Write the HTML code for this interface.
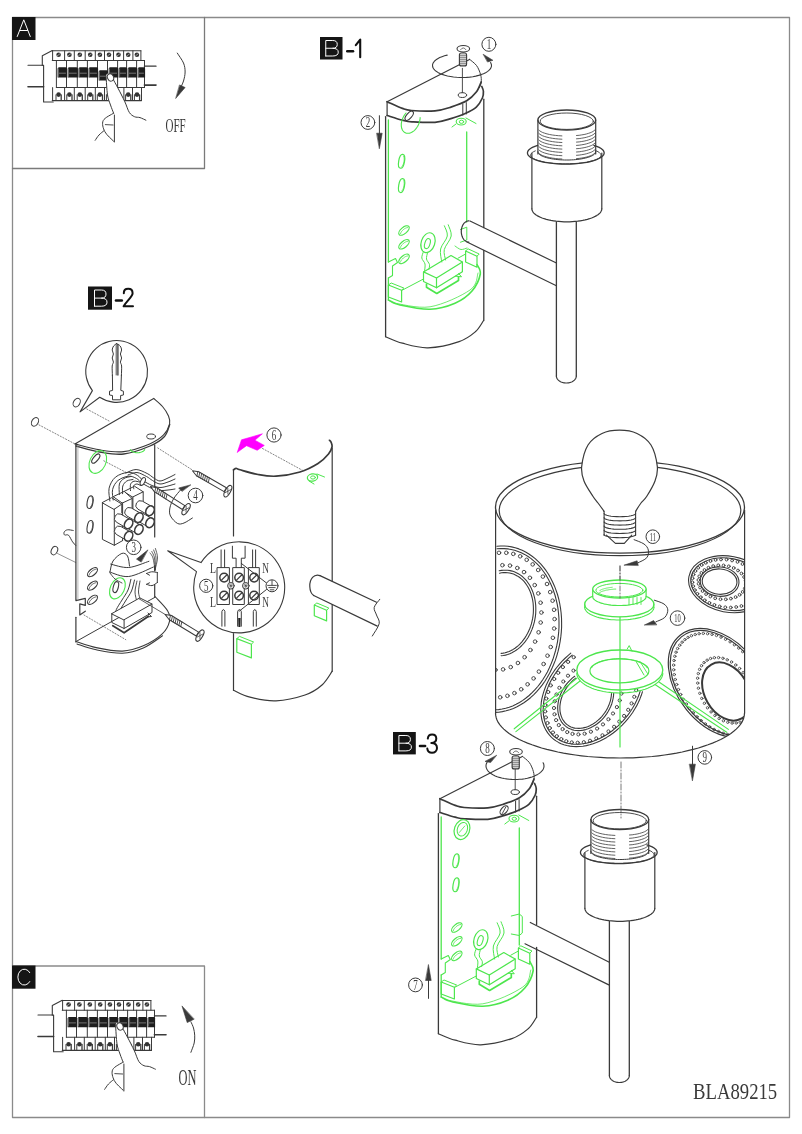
<!DOCTYPE html>
<html><head><meta charset="utf-8"><style>
html,body{margin:0;padding:0;background:#fff;}
svg{display:block;}
text{-webkit-font-smoothing:antialiased;}
</style></head><body>
<svg width="802" height="1134" viewBox="0 0 802 1134" stroke-linecap="round" stroke-linejoin="round" style="will-change:transform">
<rect width="802" height="1134" fill="#fff"/>
<rect x="12.5" y="17.5" width="777" height="1100" fill="none" stroke="#8a8a8a" stroke-width="1.3"/>
<path d="M12.5,168.5 H204.5 V17.5" fill="none" stroke="#7a7a7a" stroke-width="1.3"/>
<path d="M12.5,966 H204.5 V1117.5" fill="none" stroke="#8a8a8a" stroke-width="1.3"/>
<rect x="12" y="17" width="23.5" height="23" fill="#151515"/>
<path d="M17.25,36.5 L23.75,19.8 L30.25,36.5 M19.95,30.5 L27.55,30.5" stroke="#fff" stroke-width="1.0" fill="none" />
<rect x="12" y="965.5" width="23.5" height="23.2" fill="#151515"/>
<path d="M29.75,972.6 A6.5,8 0 1 0 29.75,981.6" stroke="#fff" stroke-width="1.0" fill="none" />
<rect x="320" y="37" width="22.5" height="22.5" fill="#151515"/>
<path d="M325.75,56.0 V40.5 H332.75 Q337.25,40.5 337.25,44.375 Q337.25,48.25 332.75,48.25 H325.75 M332.75,48.25 Q338.25,48.25 338.25,52.125 Q338.25,56.0 332.75,56.0 H325.75" stroke="#fff" stroke-width="1.0" fill="none" />
<rect x="88" y="286.5" width="24" height="23.2" fill="#151515"/>
<path d="M94.5,306.2 V290.0 H101.5 Q106.0,290.0 106.0,294.05 Q106.0,298.1 101.5,298.1 H94.5 M101.5,298.1 Q107.0,298.1 107.0,302.15 Q107.0,306.2 101.5,306.2 H94.5" stroke="#fff" stroke-width="1.0" fill="none" />
<rect x="393" y="732" width="22.8" height="22.4" fill="#151515"/>
<path d="M398.9,750.9 V735.5 H405.9 Q410.4,735.5 410.4,739.35 Q410.4,743.2 405.9,743.2 H398.9 M405.9,743.2 Q411.4,743.2 411.4,747.05 Q411.4,750.9 405.9,750.9 H398.9" stroke="#fff" stroke-width="1.0" fill="none" />
<path d="M347.3,51.2 H353" stroke="#111" stroke-width="2.6" fill="none" />
<path d="M355.8,45.2 L360.2,39.6 V57.3" stroke="#111" stroke-width="2.1" fill="none" />
<path d="M116,300.5 H121.8" stroke="#111" stroke-width="2.6" fill="none" />
<path d="M123.8,293.2 C123.8,290.3 125.8,288.8 128.2,288.8 C130.8,288.8 132.6,290.6 132.6,293.2 C132.6,296.8 127,300.5 123.6,306.3 H133" stroke="#111" stroke-width="2.0" fill="none" />
<path d="M420,746 H425.1" stroke="#111" stroke-width="2.6" fill="none" />
<path d="M427.8,738.6 C428,735.9 429.8,734.4 432.1,734.4 C434.6,734.4 436.3,736.2 436.3,738.6 C436.3,741.4 434.2,743 431.3,743 C434.8,743 437,745 437,748.1 C437,751 434.8,752.8 432,752.8 C429.3,752.8 427.6,751.2 427.3,748.6" stroke="#111" stroke-width="2.0" fill="none" />
<text x="0" y="0" transform="translate(693 1099.3) scale(0.797 1)" font-family="Liberation Serif" font-size="23.5" fill="#3a3a3a" text-anchor="start" font-weight="normal">BLA89215</text>
<g transform="translate(0 0)">
<path d="M28.0,65.3 L42.3,65.3" stroke="#3a3a3a" stroke-width="1.1" fill="none" />
<path d="M28.0,86.8 L43.6,86.8" stroke="#3a3a3a" stroke-width="1.6" fill="none" />
<path d="M144.4,66.2 L156.0,66.2" stroke="#3a3a3a" stroke-width="1.3" fill="none" />
<path d="M144.4,85.1 L156.0,85.1" stroke="#3a3a3a" stroke-width="1.6" fill="none" />
<path d="M42.3,65.3 L42.3,55.7 L52.3,50.5" stroke="#3a3a3a" stroke-width="1.1" fill="none" />
<path d="M42.3,65.3 L43.6,65.3 L43.6,102.0 L53.2,102.0" stroke="#3a3a3a" stroke-width="1.1" fill="none" />
<path d="M52.3,50.8 L140.9,50.8" stroke="#3a3a3a" stroke-width="1.1" fill="none" />
<path d="M52.3,60.5 L144.5,60.5" stroke="#3a3a3a" stroke-width="1.1" fill="none" />
<path d="M52.6,50.8 L52.6,60.5" stroke="#3a3a3a" stroke-width="1.0" fill="none" />
<path d="M64.6,50.8 L64.6,60.5" stroke="#3a3a3a" stroke-width="1.0" fill="none" />
<path d="M74.3,50.8 L74.3,60.5" stroke="#3a3a3a" stroke-width="1.0" fill="none" />
<path d="M85.2,50.8 L85.2,60.5" stroke="#3a3a3a" stroke-width="1.0" fill="none" />
<path d="M95.3,50.8 L95.3,60.5" stroke="#3a3a3a" stroke-width="1.0" fill="none" />
<path d="M104.5,50.8 L104.5,60.5" stroke="#3a3a3a" stroke-width="1.0" fill="none" />
<path d="M113.5,50.8 L113.5,60.5" stroke="#3a3a3a" stroke-width="1.0" fill="none" />
<path d="M123.6,50.8 L123.6,60.5" stroke="#3a3a3a" stroke-width="1.0" fill="none" />
<path d="M132.9,50.8 L132.9,60.5" stroke="#3a3a3a" stroke-width="1.0" fill="none" />
<path d="M140.9,50.8 L140.9,60.5" stroke="#3a3a3a" stroke-width="1.0" fill="none" />
<circle cx="58.6" cy="54.8" r="2.3" fill="#333"/>
<path d="M57.3,55.8 L59.9,53.8" stroke="#ddd" stroke-width="0.6" fill="none" />
<circle cx="69.4" cy="54.8" r="2.3" fill="#333"/>
<path d="M68.1,55.8 L70.7,53.8" stroke="#ddd" stroke-width="0.6" fill="none" />
<circle cx="79.8" cy="54.8" r="2.3" fill="#333"/>
<path d="M78.5,55.8 L81.0,53.8" stroke="#ddd" stroke-width="0.6" fill="none" />
<circle cx="90.2" cy="54.8" r="2.3" fill="#333"/>
<path d="M89.0,55.8 L91.5,53.8" stroke="#ddd" stroke-width="0.6" fill="none" />
<circle cx="99.9" cy="54.8" r="2.3" fill="#333"/>
<path d="M98.6,55.8 L101.2,53.8" stroke="#ddd" stroke-width="0.6" fill="none" />
<circle cx="109.0" cy="54.8" r="2.3" fill="#333"/>
<path d="M107.7,55.8 L110.3,53.8" stroke="#ddd" stroke-width="0.6" fill="none" />
<circle cx="118.5" cy="54.8" r="2.3" fill="#333"/>
<path d="M117.2,55.8 L119.8,53.8" stroke="#ddd" stroke-width="0.6" fill="none" />
<circle cx="128.2" cy="54.8" r="2.3" fill="#333"/>
<path d="M127.0,55.8 L129.6,53.8" stroke="#ddd" stroke-width="0.6" fill="none" />
<circle cx="136.9" cy="54.8" r="2.3" fill="#333"/>
<path d="M135.6,55.8 L138.2,53.8" stroke="#ddd" stroke-width="0.6" fill="none" />
<path d="M56.4,60.5 L56.4,87.5" stroke="#3a3a3a" stroke-width="1.0" fill="none" />
<path d="M66.5,60.5 L66.5,87.5" stroke="#3a3a3a" stroke-width="1.0" fill="none" />
<path d="M77.3,60.5 L77.3,87.5" stroke="#3a3a3a" stroke-width="1.0" fill="none" />
<path d="M87.4,60.5 L87.4,87.5" stroke="#3a3a3a" stroke-width="1.0" fill="none" />
<path d="M97.5,60.5 L97.5,87.5" stroke="#3a3a3a" stroke-width="1.0" fill="none" />
<path d="M107.5,60.5 L107.5,87.5" stroke="#3a3a3a" stroke-width="1.0" fill="none" />
<path d="M117.6,60.5 L117.6,87.5" stroke="#3a3a3a" stroke-width="1.0" fill="none" />
<path d="M126.6,60.5 L126.6,87.5" stroke="#3a3a3a" stroke-width="1.0" fill="none" />
<path d="M136.6,60.5 L136.6,87.5" stroke="#3a3a3a" stroke-width="1.0" fill="none" />
<path d="M144.5,60.5 L144.5,87.5" stroke="#3a3a3a" stroke-width="1.0" fill="none" />
<path d="M56.4,87.5 L144.5,87.5" stroke="#3a3a3a" stroke-width="1.1" fill="none" />
<path d="M57.6,77.5 V68.8 Q57.6,67.3 59.1,67.3 H65.6 Q67.1,67.3 67.1,68.8 V77.5 Z" fill="#1e1e1e"/>
<path d="M59.2,73.2 L65.5,73.2" stroke="#888" stroke-width="0.8" fill="none" />
<path d="M58.4,68.8 L58.4,76.5" stroke="#999" stroke-width="0.6" fill="none" />
<path d="M67.7,77.5 V68.8 Q67.7,67.3 69.2,67.3 H76.4 Q77.9,67.3 77.9,68.8 V77.5 Z" fill="#1e1e1e"/>
<path d="M69.3,73.2 L76.3,73.2" stroke="#888" stroke-width="0.8" fill="none" />
<path d="M68.5,68.8 L68.5,76.5" stroke="#999" stroke-width="0.6" fill="none" />
<path d="M78.5,77.5 V68.8 Q78.5,67.3 80.0,67.3 H86.5 Q88.0,67.3 88.0,68.8 V77.5 Z" fill="#1e1e1e"/>
<path d="M80.1,73.2 L86.4,73.2" stroke="#888" stroke-width="0.8" fill="none" />
<path d="M79.3,68.8 L79.3,76.5" stroke="#999" stroke-width="0.6" fill="none" />
<path d="M88.6,77.5 V68.8 Q88.6,67.3 90.1,67.3 H96.6 Q98.1,67.3 98.1,68.8 V77.5 Z" fill="#1e1e1e"/>
<path d="M90.2,73.2 L96.5,73.2" stroke="#888" stroke-width="0.8" fill="none" />
<path d="M89.4,68.8 L89.4,76.5" stroke="#999" stroke-width="0.6" fill="none" />
<path d="M98.7,80.5 V71.8 Q98.7,70.3 100.2,70.3 H106.6 Q108.1,70.3 108.1,71.8 V80.5 Z" fill="#1e1e1e"/>
<path d="M100.3,76.2 L106.5,76.2" stroke="#888" stroke-width="0.8" fill="none" />
<path d="M99.5,71.8 L99.5,79.5" stroke="#999" stroke-width="0.6" fill="none" />
<path d="M108.7,77.5 V68.8 Q108.7,67.3 110.2,67.3 H116.7 Q118.2,67.3 118.2,68.8 V77.5 Z" fill="#1e1e1e"/>
<path d="M110.3,73.2 L116.6,73.2" stroke="#888" stroke-width="0.8" fill="none" />
<path d="M109.5,68.8 L109.5,76.5" stroke="#999" stroke-width="0.6" fill="none" />
<path d="M118.8,77.5 V68.8 Q118.8,67.3 120.3,67.3 H125.7 Q127.2,67.3 127.2,68.8 V77.5 Z" fill="#1e1e1e"/>
<path d="M120.4,73.2 L125.6,73.2" stroke="#888" stroke-width="0.8" fill="none" />
<path d="M119.6,68.8 L119.6,76.5" stroke="#999" stroke-width="0.6" fill="none" />
<path d="M127.8,77.5 V68.8 Q127.8,67.3 129.3,67.3 H135.7 Q137.2,67.3 137.2,68.8 V77.5 Z" fill="#1e1e1e"/>
<path d="M129.4,73.2 L135.6,73.2" stroke="#888" stroke-width="0.8" fill="none" />
<path d="M128.6,68.8 L128.6,76.5" stroke="#999" stroke-width="0.6" fill="none" />
<path d="M137.8,77.5 V68.8 Q137.8,67.3 139.3,67.3 H143.6 Q145.1,67.3 145.1,68.8 V77.5 Z" fill="#1e1e1e"/>
<path d="M139.4,73.2 L143.5,73.2" stroke="#888" stroke-width="0.8" fill="none" />
<path d="M138.6,68.8 L138.6,76.5" stroke="#999" stroke-width="0.6" fill="none" />
<path d="M52.3,100.6 L141.5,100.6" stroke="#3a3a3a" stroke-width="1.2" fill="none" />
<path d="M52.6,87.6 L52.6,100.6" stroke="#3a3a3a" stroke-width="1.0" fill="none" />
<path d="M64.6,87.6 L64.6,100.6" stroke="#3a3a3a" stroke-width="1.0" fill="none" />
<path d="M74.3,87.6 L74.3,100.6" stroke="#3a3a3a" stroke-width="1.0" fill="none" />
<path d="M85.2,87.6 L85.2,100.6" stroke="#3a3a3a" stroke-width="1.0" fill="none" />
<path d="M95.3,87.6 L95.3,100.6" stroke="#3a3a3a" stroke-width="1.0" fill="none" />
<path d="M104.5,87.6 L104.5,100.6" stroke="#3a3a3a" stroke-width="1.0" fill="none" />
<path d="M113.5,87.6 L113.5,100.6" stroke="#3a3a3a" stroke-width="1.0" fill="none" />
<path d="M123.9,87.6 L123.9,100.6" stroke="#3a3a3a" stroke-width="1.0" fill="none" />
<path d="M132.5,87.6 L132.5,100.6" stroke="#3a3a3a" stroke-width="1.0" fill="none" />
<path d="M141.5,87.6 L141.5,100.6" stroke="#3a3a3a" stroke-width="1.0" fill="none" />
<circle cx="58.6" cy="94.6" r="2.3" fill="#333"/>
<path d="M56.0,94.8 L56.0,100.3" stroke="#3a3a3a" stroke-width="1.0" fill="none" />
<path d="M61.2,94.8 L61.2,100.3" stroke="#3a3a3a" stroke-width="1.3" fill="none" />
<circle cx="69.4" cy="94.6" r="2.3" fill="#333"/>
<path d="M66.8,94.8 L66.8,100.3" stroke="#3a3a3a" stroke-width="1.0" fill="none" />
<path d="M72.0,94.8 L72.0,100.3" stroke="#3a3a3a" stroke-width="1.3" fill="none" />
<circle cx="79.8" cy="94.6" r="2.3" fill="#333"/>
<path d="M77.2,94.8 L77.2,100.3" stroke="#3a3a3a" stroke-width="1.0" fill="none" />
<path d="M82.3,94.8 L82.3,100.3" stroke="#3a3a3a" stroke-width="1.3" fill="none" />
<circle cx="90.2" cy="94.6" r="2.3" fill="#333"/>
<path d="M87.7,94.8 L87.7,100.3" stroke="#3a3a3a" stroke-width="1.0" fill="none" />
<path d="M92.8,94.8 L92.8,100.3" stroke="#3a3a3a" stroke-width="1.3" fill="none" />
<circle cx="99.9" cy="94.6" r="2.3" fill="#333"/>
<path d="M97.3,94.8 L97.3,100.3" stroke="#3a3a3a" stroke-width="1.0" fill="none" />
<path d="M102.5,94.8 L102.5,100.3" stroke="#3a3a3a" stroke-width="1.3" fill="none" />
<circle cx="109.0" cy="94.6" r="2.3" fill="#333"/>
<path d="M106.4,94.8 L106.4,100.3" stroke="#3a3a3a" stroke-width="1.0" fill="none" />
<path d="M111.6,94.8 L111.6,100.3" stroke="#3a3a3a" stroke-width="1.3" fill="none" />
<circle cx="118.7" cy="94.6" r="2.3" fill="#333"/>
<path d="M116.1,94.8 L116.1,100.3" stroke="#3a3a3a" stroke-width="1.0" fill="none" />
<path d="M121.3,94.8 L121.3,100.3" stroke="#3a3a3a" stroke-width="1.3" fill="none" />
<circle cx="128.2" cy="94.6" r="2.3" fill="#333"/>
<path d="M125.6,94.8 L125.6,100.3" stroke="#3a3a3a" stroke-width="1.0" fill="none" />
<path d="M130.8,94.8 L130.8,100.3" stroke="#3a3a3a" stroke-width="1.3" fill="none" />
<circle cx="137.0" cy="94.6" r="2.3" fill="#333"/>
<path d="M134.4,94.8 L134.4,100.3" stroke="#3a3a3a" stroke-width="1.0" fill="none" />
<path d="M139.6,94.8 L139.6,100.3" stroke="#3a3a3a" stroke-width="1.3" fill="none" />
</g>
<g transform="translate(0 0)">
<path d="M106.1,76.6 C105.8,80.1 106.8,90.2 107.5,94.9 C108.2,99.6 109.5,102.0 110.5,105.0 C111.5,108.0 115.0,110.5 113.6,113.2 C112.2,115.9 103.7,118.0 102.2,121.1 C100.7,124.2 102.9,128.2 104.8,131.6 C106.7,134.9 106.1,139.6 113.6,141.2 C121.1,142.8 144.6,144.5 150.0,141.0 C155.4,137.5 148.5,124.2 145.9,120.2 C143.3,116.2 137.3,118.0 134.5,116.7 C131.7,115.4 130.9,114.9 129.3,112.4 C127.7,109.9 126.8,106.0 124.9,101.9 C123.0,97.8 119.9,91.8 117.9,88.0 C115.9,84.2 114.6,81.5 113.1,79.2 C111.6,76.9 110.2,74.4 109.0,74.0 C107.8,73.6 106.3,73.1 106.1,76.6 Z" stroke="none" stroke-width="1.2" fill="#fff" />
<path d="M106.1,76.6 C106.3,79.6 106.8,90.2 107.5,94.9 C108.2,99.6 109.5,102.0 110.5,105.0 C111.5,108.0 113.1,111.8 113.6,113.2" stroke="#3a3a3a" stroke-width="1.0" fill="none" />
<path d="M113.1,79.2 C113.9,80.7 115.9,84.2 117.9,88.0 C119.9,91.8 123.0,97.8 124.9,101.9 C126.8,106.0 127.7,109.9 129.3,112.4 C130.9,114.9 132.7,115.8 134.5,116.7 C136.3,117.6 138.1,117.0 140.0,117.6 C141.9,118.2 144.9,119.8 145.9,120.2" stroke="#3a3a3a" stroke-width="1.0" fill="none" />
<path d="M113.6,113.2 C111.9,114.4 104.7,117.5 103.2,120.6 C101.7,123.7 103.1,128.2 104.8,131.6 C106.5,135.0 112.1,139.6 113.6,141.2" stroke="#3a3a3a" stroke-width="1.0" fill="none" />
<path d="M114.4,115.0 L114.4,142.0" stroke="#3a3a3a" stroke-width="1.0" fill="none" />
<path d="M104.0,130.7 C103.2,131.4 100.5,133.4 99.0,135.0 C97.5,136.6 95.8,139.4 95.2,140.3" stroke="#3a3a3a" stroke-width="1.0" fill="none" />
<path d="M105.3,124.6 L113.1,125.0" stroke="#3a3a3a" stroke-width="0.9" fill="none" />
<ellipse cx="110.5" cy="77.4" rx="3.0" ry="3.8" stroke="#3a3a3a" stroke-width="1.0" fill="#fff" transform="rotate(-25 110.5 77.4)" />
</g>
<path d="M177.3,53.1 C178.3,54.8 182.2,59.9 183.5,63.0 C184.8,66.2 185.1,69.0 185.1,72.0 C185.1,75.0 184.3,78.3 183.5,81.0 C182.7,83.7 181.0,86.8 180.5,88.0" stroke="#3a3a3a" stroke-width="1.0" fill="none" />
<path d="M179.8,85.1 L185.1,87.5 L175.9,98.2 Z" fill="#3a3a3a" stroke="#3a3a3a" stroke-width="0.6"/>
<text x="0" y="0" transform="translate(165.5 131.8) scale(0.597 1)" font-family="Liberation Serif" font-size="18.5" fill="#3a3a3a" text-anchor="start" font-weight="normal">OFF</text>
<g transform="translate(10 949.7)">
<path d="M28.0,65.3 L42.3,65.3" stroke="#3a3a3a" stroke-width="1.1" fill="none" />
<path d="M28.0,86.8 L43.6,86.8" stroke="#3a3a3a" stroke-width="1.6" fill="none" />
<path d="M144.4,66.2 L156.0,66.2" stroke="#3a3a3a" stroke-width="1.3" fill="none" />
<path d="M144.4,85.1 L156.0,85.1" stroke="#3a3a3a" stroke-width="1.6" fill="none" />
<path d="M42.3,65.3 L42.3,55.7 L52.3,50.5" stroke="#3a3a3a" stroke-width="1.1" fill="none" />
<path d="M42.3,65.3 L43.6,65.3 L43.6,102.0 L53.2,102.0" stroke="#3a3a3a" stroke-width="1.1" fill="none" />
<path d="M52.3,50.8 L140.9,50.8" stroke="#3a3a3a" stroke-width="1.1" fill="none" />
<path d="M52.3,60.5 L144.5,60.5" stroke="#3a3a3a" stroke-width="1.1" fill="none" />
<path d="M52.6,50.8 L52.6,60.5" stroke="#3a3a3a" stroke-width="1.0" fill="none" />
<path d="M64.6,50.8 L64.6,60.5" stroke="#3a3a3a" stroke-width="1.0" fill="none" />
<path d="M74.3,50.8 L74.3,60.5" stroke="#3a3a3a" stroke-width="1.0" fill="none" />
<path d="M85.2,50.8 L85.2,60.5" stroke="#3a3a3a" stroke-width="1.0" fill="none" />
<path d="M95.3,50.8 L95.3,60.5" stroke="#3a3a3a" stroke-width="1.0" fill="none" />
<path d="M104.5,50.8 L104.5,60.5" stroke="#3a3a3a" stroke-width="1.0" fill="none" />
<path d="M113.5,50.8 L113.5,60.5" stroke="#3a3a3a" stroke-width="1.0" fill="none" />
<path d="M123.6,50.8 L123.6,60.5" stroke="#3a3a3a" stroke-width="1.0" fill="none" />
<path d="M132.9,50.8 L132.9,60.5" stroke="#3a3a3a" stroke-width="1.0" fill="none" />
<path d="M140.9,50.8 L140.9,60.5" stroke="#3a3a3a" stroke-width="1.0" fill="none" />
<circle cx="58.6" cy="54.8" r="2.3" fill="#333"/>
<path d="M57.3,55.8 L59.9,53.8" stroke="#ddd" stroke-width="0.6" fill="none" />
<circle cx="69.4" cy="54.8" r="2.3" fill="#333"/>
<path d="M68.1,55.8 L70.7,53.8" stroke="#ddd" stroke-width="0.6" fill="none" />
<circle cx="79.8" cy="54.8" r="2.3" fill="#333"/>
<path d="M78.5,55.8 L81.0,53.8" stroke="#ddd" stroke-width="0.6" fill="none" />
<circle cx="90.2" cy="54.8" r="2.3" fill="#333"/>
<path d="M89.0,55.8 L91.5,53.8" stroke="#ddd" stroke-width="0.6" fill="none" />
<circle cx="99.9" cy="54.8" r="2.3" fill="#333"/>
<path d="M98.6,55.8 L101.2,53.8" stroke="#ddd" stroke-width="0.6" fill="none" />
<circle cx="109.0" cy="54.8" r="2.3" fill="#333"/>
<path d="M107.7,55.8 L110.3,53.8" stroke="#ddd" stroke-width="0.6" fill="none" />
<circle cx="118.5" cy="54.8" r="2.3" fill="#333"/>
<path d="M117.2,55.8 L119.8,53.8" stroke="#ddd" stroke-width="0.6" fill="none" />
<circle cx="128.2" cy="54.8" r="2.3" fill="#333"/>
<path d="M127.0,55.8 L129.6,53.8" stroke="#ddd" stroke-width="0.6" fill="none" />
<circle cx="136.9" cy="54.8" r="2.3" fill="#333"/>
<path d="M135.6,55.8 L138.2,53.8" stroke="#ddd" stroke-width="0.6" fill="none" />
<path d="M56.4,60.5 L56.4,87.5" stroke="#3a3a3a" stroke-width="1.0" fill="none" />
<path d="M66.5,60.5 L66.5,87.5" stroke="#3a3a3a" stroke-width="1.0" fill="none" />
<path d="M77.3,60.5 L77.3,87.5" stroke="#3a3a3a" stroke-width="1.0" fill="none" />
<path d="M87.4,60.5 L87.4,87.5" stroke="#3a3a3a" stroke-width="1.0" fill="none" />
<path d="M97.5,60.5 L97.5,87.5" stroke="#3a3a3a" stroke-width="1.0" fill="none" />
<path d="M107.5,60.5 L107.5,87.5" stroke="#3a3a3a" stroke-width="1.0" fill="none" />
<path d="M117.6,60.5 L117.6,87.5" stroke="#3a3a3a" stroke-width="1.0" fill="none" />
<path d="M126.6,60.5 L126.6,87.5" stroke="#3a3a3a" stroke-width="1.0" fill="none" />
<path d="M136.6,60.5 L136.6,87.5" stroke="#3a3a3a" stroke-width="1.0" fill="none" />
<path d="M144.5,60.5 L144.5,87.5" stroke="#3a3a3a" stroke-width="1.0" fill="none" />
<path d="M56.4,87.5 L144.5,87.5" stroke="#3a3a3a" stroke-width="1.1" fill="none" />
<path d="M57.6,77.5 V68.8 Q57.6,67.3 59.1,67.3 H65.6 Q67.1,67.3 67.1,68.8 V77.5 Z" fill="#1e1e1e"/>
<path d="M59.2,73.2 L65.5,73.2" stroke="#888" stroke-width="0.8" fill="none" />
<path d="M58.4,68.8 L58.4,76.5" stroke="#999" stroke-width="0.6" fill="none" />
<path d="M67.7,77.5 V68.8 Q67.7,67.3 69.2,67.3 H76.4 Q77.9,67.3 77.9,68.8 V77.5 Z" fill="#1e1e1e"/>
<path d="M69.3,73.2 L76.3,73.2" stroke="#888" stroke-width="0.8" fill="none" />
<path d="M68.5,68.8 L68.5,76.5" stroke="#999" stroke-width="0.6" fill="none" />
<path d="M78.5,77.5 V68.8 Q78.5,67.3 80.0,67.3 H86.5 Q88.0,67.3 88.0,68.8 V77.5 Z" fill="#1e1e1e"/>
<path d="M80.1,73.2 L86.4,73.2" stroke="#888" stroke-width="0.8" fill="none" />
<path d="M79.3,68.8 L79.3,76.5" stroke="#999" stroke-width="0.6" fill="none" />
<path d="M88.6,77.5 V68.8 Q88.6,67.3 90.1,67.3 H96.6 Q98.1,67.3 98.1,68.8 V77.5 Z" fill="#1e1e1e"/>
<path d="M90.2,73.2 L96.5,73.2" stroke="#888" stroke-width="0.8" fill="none" />
<path d="M89.4,68.8 L89.4,76.5" stroke="#999" stroke-width="0.6" fill="none" />
<path d="M98.7,77.5 V68.8 Q98.7,67.3 100.2,67.3 H106.6 Q108.1,67.3 108.1,68.8 V77.5 Z" fill="#1e1e1e"/>
<path d="M100.3,73.2 L106.5,73.2" stroke="#888" stroke-width="0.8" fill="none" />
<path d="M99.5,68.8 L99.5,76.5" stroke="#999" stroke-width="0.6" fill="none" />
<path d="M108.7,77.5 V68.8 Q108.7,67.3 110.2,67.3 H116.7 Q118.2,67.3 118.2,68.8 V77.5 Z" fill="#1e1e1e"/>
<path d="M110.3,73.2 L116.6,73.2" stroke="#888" stroke-width="0.8" fill="none" />
<path d="M109.5,68.8 L109.5,76.5" stroke="#999" stroke-width="0.6" fill="none" />
<path d="M118.8,77.5 V68.8 Q118.8,67.3 120.3,67.3 H125.7 Q127.2,67.3 127.2,68.8 V77.5 Z" fill="#1e1e1e"/>
<path d="M120.4,73.2 L125.6,73.2" stroke="#888" stroke-width="0.8" fill="none" />
<path d="M119.6,68.8 L119.6,76.5" stroke="#999" stroke-width="0.6" fill="none" />
<path d="M127.8,77.5 V68.8 Q127.8,67.3 129.3,67.3 H135.7 Q137.2,67.3 137.2,68.8 V77.5 Z" fill="#1e1e1e"/>
<path d="M129.4,73.2 L135.6,73.2" stroke="#888" stroke-width="0.8" fill="none" />
<path d="M128.6,68.8 L128.6,76.5" stroke="#999" stroke-width="0.6" fill="none" />
<path d="M137.8,77.5 V68.8 Q137.8,67.3 139.3,67.3 H143.6 Q145.1,67.3 145.1,68.8 V77.5 Z" fill="#1e1e1e"/>
<path d="M139.4,73.2 L143.5,73.2" stroke="#888" stroke-width="0.8" fill="none" />
<path d="M138.6,68.8 L138.6,76.5" stroke="#999" stroke-width="0.6" fill="none" />
<path d="M52.3,100.6 L141.5,100.6" stroke="#3a3a3a" stroke-width="1.2" fill="none" />
<path d="M52.6,87.6 L52.6,100.6" stroke="#3a3a3a" stroke-width="1.0" fill="none" />
<path d="M64.6,87.6 L64.6,100.6" stroke="#3a3a3a" stroke-width="1.0" fill="none" />
<path d="M74.3,87.6 L74.3,100.6" stroke="#3a3a3a" stroke-width="1.0" fill="none" />
<path d="M85.2,87.6 L85.2,100.6" stroke="#3a3a3a" stroke-width="1.0" fill="none" />
<path d="M95.3,87.6 L95.3,100.6" stroke="#3a3a3a" stroke-width="1.0" fill="none" />
<path d="M104.5,87.6 L104.5,100.6" stroke="#3a3a3a" stroke-width="1.0" fill="none" />
<path d="M113.5,87.6 L113.5,100.6" stroke="#3a3a3a" stroke-width="1.0" fill="none" />
<path d="M123.9,87.6 L123.9,100.6" stroke="#3a3a3a" stroke-width="1.0" fill="none" />
<path d="M132.5,87.6 L132.5,100.6" stroke="#3a3a3a" stroke-width="1.0" fill="none" />
<path d="M141.5,87.6 L141.5,100.6" stroke="#3a3a3a" stroke-width="1.0" fill="none" />
<circle cx="58.6" cy="94.6" r="2.3" fill="#333"/>
<path d="M56.0,94.8 L56.0,100.3" stroke="#3a3a3a" stroke-width="1.0" fill="none" />
<path d="M61.2,94.8 L61.2,100.3" stroke="#3a3a3a" stroke-width="1.3" fill="none" />
<circle cx="69.4" cy="94.6" r="2.3" fill="#333"/>
<path d="M66.8,94.8 L66.8,100.3" stroke="#3a3a3a" stroke-width="1.0" fill="none" />
<path d="M72.0,94.8 L72.0,100.3" stroke="#3a3a3a" stroke-width="1.3" fill="none" />
<circle cx="79.8" cy="94.6" r="2.3" fill="#333"/>
<path d="M77.2,94.8 L77.2,100.3" stroke="#3a3a3a" stroke-width="1.0" fill="none" />
<path d="M82.3,94.8 L82.3,100.3" stroke="#3a3a3a" stroke-width="1.3" fill="none" />
<circle cx="90.2" cy="94.6" r="2.3" fill="#333"/>
<path d="M87.7,94.8 L87.7,100.3" stroke="#3a3a3a" stroke-width="1.0" fill="none" />
<path d="M92.8,94.8 L92.8,100.3" stroke="#3a3a3a" stroke-width="1.3" fill="none" />
<circle cx="99.9" cy="94.6" r="2.3" fill="#333"/>
<path d="M97.3,94.8 L97.3,100.3" stroke="#3a3a3a" stroke-width="1.0" fill="none" />
<path d="M102.5,94.8 L102.5,100.3" stroke="#3a3a3a" stroke-width="1.3" fill="none" />
<circle cx="109.0" cy="94.6" r="2.3" fill="#333"/>
<path d="M106.4,94.8 L106.4,100.3" stroke="#3a3a3a" stroke-width="1.0" fill="none" />
<path d="M111.6,94.8 L111.6,100.3" stroke="#3a3a3a" stroke-width="1.3" fill="none" />
<circle cx="118.7" cy="94.6" r="2.3" fill="#333"/>
<path d="M116.1,94.8 L116.1,100.3" stroke="#3a3a3a" stroke-width="1.0" fill="none" />
<path d="M121.3,94.8 L121.3,100.3" stroke="#3a3a3a" stroke-width="1.3" fill="none" />
<circle cx="128.2" cy="94.6" r="2.3" fill="#333"/>
<path d="M125.6,94.8 L125.6,100.3" stroke="#3a3a3a" stroke-width="1.0" fill="none" />
<path d="M130.8,94.8 L130.8,100.3" stroke="#3a3a3a" stroke-width="1.3" fill="none" />
<circle cx="137.0" cy="94.6" r="2.3" fill="#333"/>
<path d="M134.4,94.8 L134.4,100.3" stroke="#3a3a3a" stroke-width="1.0" fill="none" />
<path d="M139.6,94.8 L139.6,100.3" stroke="#3a3a3a" stroke-width="1.3" fill="none" />
</g>
<g transform="translate(9.5 949)">
<path d="M106.1,76.6 C105.8,80.1 106.8,90.2 107.5,94.9 C108.2,99.6 109.5,102.0 110.5,105.0 C111.5,108.0 115.0,110.5 113.6,113.2 C112.2,115.9 103.7,118.0 102.2,121.1 C100.7,124.2 102.9,128.2 104.8,131.6 C106.7,134.9 106.1,139.6 113.6,141.2 C121.1,142.8 144.6,144.5 150.0,141.0 C155.4,137.5 148.5,124.2 145.9,120.2 C143.3,116.2 137.3,118.0 134.5,116.7 C131.7,115.4 130.9,114.9 129.3,112.4 C127.7,109.9 126.8,106.0 124.9,101.9 C123.0,97.8 119.9,91.8 117.9,88.0 C115.9,84.2 114.6,81.5 113.1,79.2 C111.6,76.9 110.2,74.4 109.0,74.0 C107.8,73.6 106.3,73.1 106.1,76.6 Z" stroke="none" stroke-width="1.2" fill="#fff" />
<path d="M106.1,76.6 C106.3,79.6 106.8,90.2 107.5,94.9 C108.2,99.6 109.5,102.0 110.5,105.0 C111.5,108.0 113.1,111.8 113.6,113.2" stroke="#3a3a3a" stroke-width="1.0" fill="none" />
<path d="M113.1,79.2 C113.9,80.7 115.9,84.2 117.9,88.0 C119.9,91.8 123.0,97.8 124.9,101.9 C126.8,106.0 127.7,109.9 129.3,112.4 C130.9,114.9 132.7,115.8 134.5,116.7 C136.3,117.6 138.1,117.0 140.0,117.6 C141.9,118.2 144.9,119.8 145.9,120.2" stroke="#3a3a3a" stroke-width="1.0" fill="none" />
<path d="M113.6,113.2 C111.9,114.4 104.7,117.5 103.2,120.6 C101.7,123.7 103.1,128.2 104.8,131.6 C106.5,135.0 112.1,139.6 113.6,141.2" stroke="#3a3a3a" stroke-width="1.0" fill="none" />
<path d="M114.4,115.0 L114.4,142.0" stroke="#3a3a3a" stroke-width="1.0" fill="none" />
<path d="M104.0,130.7 C103.2,131.4 100.5,133.4 99.0,135.0 C97.5,136.6 95.8,139.4 95.2,140.3" stroke="#3a3a3a" stroke-width="1.0" fill="none" />
<path d="M105.3,124.6 L113.1,125.0" stroke="#3a3a3a" stroke-width="0.9" fill="none" />
<ellipse cx="110.5" cy="77.4" rx="3.0" ry="3.8" stroke="#3a3a3a" stroke-width="1.0" fill="#fff" transform="rotate(-25 110.5 77.4)" />
</g>
<path d="M190.9,1052.3 C191.4,1050.8 193.6,1045.8 194.2,1043.0 C194.8,1040.2 194.8,1037.7 194.7,1035.2 C194.6,1032.7 194.1,1030.2 193.5,1028.0 C192.9,1025.8 191.3,1022.8 190.9,1021.8" stroke="#3a3a3a" stroke-width="1.0" fill="none" />
<path d="M182.1,1006.3 L187.2,1022.6 L193.9,1019.3 Z" fill="#3a3a3a" stroke="#3a3a3a" stroke-width="0.6"/>
<text x="0" y="0" transform="translate(178.6 1084.8) scale(0.552 1)" font-family="Liberation Serif" font-size="22.5" fill="#3a3a3a" text-anchor="start" font-weight="normal">ON</text>
<g transform="translate(0 0)">
<path d="M387.1,101.7 L469.5,59.5" stroke="#3a3a3a" stroke-width="1.2" fill="none" />
<path d="M469.5,59.3 C470.7,60.3 474.6,63.0 476.5,65.5 C478.4,68.0 479.8,71.8 480.6,74.6 C481.4,77.3 481.4,79.8 481.2,82.0 C481.0,84.2 479.8,86.6 479.5,87.5" stroke="#3a3a3a" stroke-width="1.0" fill="none" />
<path d="M481.2,82.0 C480.4,83.7 478.7,89.0 476.3,92.1 C473.9,95.2 470.9,98.3 466.7,100.8 C462.5,103.3 456.2,105.4 450.9,107.1 C445.6,108.8 441.6,110.2 435.0,110.8 C428.4,111.4 416.8,110.9 411.4,110.5 C406.0,110.1 406.4,109.9 402.4,108.4 C398.3,106.9 389.7,102.8 387.1,101.7" stroke="#3a3a3a" stroke-width="1.7" fill="none" />
<path d="M387.1,101.7 L387.1,115.5" stroke="#3a3a3a" stroke-width="1.2" fill="none" />
<path d="M387.1,115.5 C389.7,116.3 398.2,119.2 402.4,120.2 C406.5,121.2 406.6,121.5 412.0,121.8 C417.4,122.1 428.5,122.8 435.0,122.3 C441.5,121.8 445.9,120.1 450.9,118.6 C455.9,117.1 461.0,115.4 465.2,113.5 C469.4,111.6 473.4,109.7 476.3,107.1 C479.2,104.5 481.2,100.6 482.4,98.0 C483.6,95.4 483.5,93.2 483.4,91.3 C483.3,89.4 482.1,87.3 481.8,86.5" stroke="#3a3a3a" stroke-width="1.7" fill="none" />
<path d="M462.8,104.2 L462.8,115.2" stroke="#3a3a3a" stroke-width="1.0" fill="none" />
<path d="M466.3,102.6 L466.3,114.0" stroke="#3a3a3a" stroke-width="1.0" fill="none" />
<path d="M385.6,116.6 L385.6,336.7" stroke="#3a3a3a" stroke-width="1.3" fill="none" />
<path d="M385.6,336.7 C388.4,337.8 395.3,341.3 402.4,343.2 C409.5,345.1 418.6,348.1 428.0,347.8 C437.4,347.5 451.2,344.3 459.1,341.6 C467.0,338.9 471.2,335.3 475.3,331.8 C479.4,328.3 482.2,322.4 483.6,320.5" stroke="#3a3a3a" stroke-width="1.2" fill="none" />
<path d="M483.8,99.2 L483.8,227.5" stroke="#3a3a3a" stroke-width="1.3" fill="none" />
<path d="M483.8,250.5 L483.8,320.5" stroke="#3a3a3a" stroke-width="1.3" fill="none" />
<ellipse cx="462.4" cy="95.1" rx="4.2" ry="2.4" stroke="#3a3a3a" stroke-width="1.0" fill="none" />
<path d="M462.4,68.3 L462.4,92.7" stroke="#3a3a3a" stroke-width="0.9" fill="none" />
<path d="M388.4,120.0 L388.4,262.0" stroke="#4de64d" stroke-width="1.3" fill="none" />
<path d="M388.4,278.0 L388.4,300.0" stroke="#4de64d" stroke-width="1.3" fill="none" />
<ellipse cx="461.2" cy="121.6" rx="5.0" ry="3.4" stroke="#4de64d" stroke-width="1.1" fill="none" />
<ellipse cx="461.5" cy="121.8" rx="2.2" ry="1.6" stroke="#4de64d" stroke-width="1.0" fill="none" />
<path d="M456.0,124.0 L452.0,127.0" stroke="#4de64d" stroke-width="1.0" fill="none" />
<path d="M466.0,118.0 L476.0,123.5" stroke="#4de64d" stroke-width="1.0" fill="none" />
<ellipse cx="404" cy="230.5" rx="6.3" ry="3.1" stroke="#4de64d" stroke-width="1.2" fill="none" transform="rotate(-40 404 230.5)" />
<path d="M400.6,233.6 L400.7,233.0 L401.1,232.2 L401.7,231.3 L402.5,230.5 L403.4,229.6 L404.3,228.9 L405.3,228.3 L406.3,227.9 L407.1,227.6 L407.8,227.6" stroke="#4de64d" stroke-width="0.8" fill="none" />
<ellipse cx="404" cy="244.3" rx="6.3" ry="3.1" stroke="#4de64d" stroke-width="1.2" fill="none" transform="rotate(-40 404 244.3)" />
<path d="M400.6,247.4 L400.7,246.8 L401.1,246.0 L401.7,245.1 L402.5,244.3 L403.4,243.4 L404.3,242.7 L405.3,242.1 L406.3,241.7 L407.1,241.4 L407.8,241.4" stroke="#4de64d" stroke-width="0.8" fill="none" />
<ellipse cx="404" cy="258.9" rx="6.3" ry="3.1" stroke="#4de64d" stroke-width="1.2" fill="none" transform="rotate(-40 404 258.9)" />
<path d="M400.6,262.0 L400.7,261.4 L401.1,260.6 L401.7,259.7 L402.5,258.9 L403.4,258.0 L404.3,257.3 L405.3,256.7 L406.3,256.3 L407.1,256.0 L407.8,256.0" stroke="#4de64d" stroke-width="0.8" fill="none" />
<path d="M388.4,262.0 L395.5,258.5 L397.5,262.5 L392.5,266.0 L392.5,275.5 L388.4,278.0" stroke="#4de64d" stroke-width="1.1" fill="none" />
<ellipse cx="428" cy="242.7" rx="6.8" ry="10.2" stroke="#4de64d" stroke-width="1.2" fill="none" transform="rotate(18 428 242.7)" />
<ellipse cx="427.4" cy="243.6" rx="2.6" ry="5.2" stroke="#4de64d" stroke-width="1.1" fill="none" transform="rotate(18 427.4 243.6)" />
<path d="M423.5,251.5 C423.2,252.6 421.6,255.9 421.8,258.0 C422.1,260.1 424.6,261.8 425.0,264.0 C425.4,266.2 424.6,270.2 424.5,271.5" stroke="#4de64d" stroke-width="1.0" fill="none" />
<path d="M427.5,253.0 C427.3,254.0 426.2,257.1 426.5,259.0 C426.8,260.9 429.1,262.8 429.5,264.5 C429.9,266.2 428.9,268.7 428.8,269.5" stroke="#4de64d" stroke-width="1.0" fill="none" />
<path d="M444.3,225.8 C444.8,227.5 447.9,232.1 447.3,236.0 C446.7,239.9 441.5,244.7 440.6,249.0 C439.7,253.3 441.6,259.8 441.8,262.0" stroke="#4de64d" stroke-width="1.0" fill="none" />
<path d="M448.2,224.8 C448.7,226.7 451.8,231.9 451.2,236.0 C450.6,240.1 445.2,245.5 444.3,249.5 C443.4,253.5 445.4,258.2 445.6,260.0" stroke="#4de64d" stroke-width="1.0" fill="none" />
<path d="M423.5,271.9 L451.0,255.6 L462.4,262.0 L436.5,278.0 Z" stroke="#4de64d" stroke-width="1.2" fill="none" />
<path d="M423.5,271.9 L423.5,281.5 L436.5,287.8 L436.5,278.0" stroke="#4de64d" stroke-width="1.2" fill="none" />
<path d="M436.5,287.8 L462.4,271.8 L462.4,262.0" stroke="#4de64d" stroke-width="1.2" fill="none" />
<path d="M426.5,284.0 L426.5,287.2 L436.8,293.5 L458.5,280.5 L458.5,277.0" stroke="#4de64d" stroke-width="1.7" fill="none" />
<path d="M455.5,276.2 L461.5,276.8 L458.6,273.4" stroke="#4de64d" stroke-width="1.0" fill="none" />
<path d="M388.4,285.0 L401.6,290.2 L401.6,302.0 L388.4,297.0 Z" stroke="#4de64d" stroke-width="1.2" fill="none" />
<path d="M388.4,285.0 L391.2,283.0 L403.8,288.0 L401.6,290.2" stroke="#4de64d" stroke-width="1.0" fill="none" />
<path d="M465.6,251.0 L477.0,256.2 L477.0,267.2 L465.6,262.0 Z" stroke="#4de64d" stroke-width="1.2" fill="none" />
<path d="M465.6,251.0 L468.0,248.8 L479.2,254.0 L477.0,256.2" stroke="#4de64d" stroke-width="1.0" fill="none" />
<path d="M401.6,290.5 L423.5,279.0" stroke="#4de64d" stroke-width="1.0" fill="none" />
<path d="M458.0,258.2 L465.6,254.0" stroke="#4de64d" stroke-width="1.0" fill="none" />
<path d="M388.4,300.0 C390.3,300.8 393.1,303.5 400.0,305.0 C406.9,306.5 420.8,309.5 430.0,309.2 C439.2,308.9 448.0,306.2 455.0,303.2 C462.0,300.2 467.8,295.9 472.0,291.0 C476.2,286.1 479.5,278.4 480.3,274.0 C481.1,269.6 477.6,266.1 477.0,264.5" stroke="#4de64d" stroke-width="1.6" fill="none" />
<path d="M392.0,302.6 C398.3,303.3 417.0,308.9 430.0,306.8 C443.0,304.7 462.0,295.6 470.0,290.0 C478.0,284.4 476.7,275.8 478.0,273.0" stroke="#4de64d" stroke-width="0.8" fill="none" />
<path d="M466.7,132.0 L466.7,222.0" stroke="#4de64d" stroke-width="1.3" fill="none" />
<ellipse cx="409.2" cy="115.8" rx="2.6" ry="5.6" stroke="#3a3a3a" stroke-width="1.1" fill="none" transform="rotate(40 409.2 115.8)" />
<path d="M420.1,117.5 L420.1,118.7 L419.9,120.0 L419.6,121.2 L419.3,122.5 L418.8,123.8 L418.3,125.0 L417.7,126.2 L417.0,127.3 L416.2,128.4 L415.4,129.4 L414.5,130.3 L413.6,131.1 L412.6,131.7 L411.7,132.3 L410.7,132.8 L409.7,133.1 L408.7,133.3 L407.8,133.3 L406.9,133.3 L406.0,133.1 L405.2,132.7 L404.4,132.3 L403.7,131.7 L403.1,131.0 L402.5,130.2 L402.1,129.3 L401.7,128.3 L401.5,127.2 L401.3,126.1 L401.3,124.9 L401.3,123.7 L401.5,122.4 L401.8,121.2 L402.1,119.9 L402.6,118.6 L403.1,117.4 L403.7,116.2 L404.4,115.1 L405.2,114.0 L406.0,113.0" stroke="#4de64d" stroke-width="1.1" fill="none" />
<ellipse cx="401.6" cy="161.3" rx="2.9" ry="7.0" stroke="#4de64d" stroke-width="1.2" fill="none" transform="rotate(10 401.6 161.3)" />
<path d="M403.7,156.4 L404.0,157.1 L404.1,158.0 L404.2,159.1 L404.1,160.3 L404.0,161.6 L403.7,162.9 L403.3,164.1 L402.9,165.1 L402.4,165.9 L401.9,166.4" stroke="#4de64d" stroke-width="0.8" fill="none" />
<ellipse cx="401.6" cy="185.6" rx="2.9" ry="7.0" stroke="#4de64d" stroke-width="1.2" fill="none" transform="rotate(10 401.6 185.6)" />
<path d="M403.7,180.7 L404.0,181.4 L404.1,182.3 L404.2,183.4 L404.1,184.6 L404.0,185.9 L403.7,187.2 L403.3,188.4 L402.9,189.4 L402.4,190.2 L401.9,190.7" stroke="#4de64d" stroke-width="0.8" fill="none" />
<path d="M460.5,229.5 L466.8,227.2 L466.8,240.0 L460.5,242.2" stroke="#4de64d" stroke-width="1.0" fill="none" />
<path d="M455.0,246.0 C456.0,246.6 459.0,249.2 461.0,249.5 C463.0,249.8 466.0,248.2 467.0,248.0" stroke="#4de64d" stroke-width="0.9" fill="none" />
</g>
<g transform="translate(0 0)">
<ellipse cx="566.8" cy="120" rx="28.9" ry="10.0" stroke="#3a3a3a" stroke-width="1.3" fill="none" />
<ellipse cx="566.8" cy="121.2" rx="26.6" ry="8.2" stroke="#3a3a3a" stroke-width="0.9" fill="none" />
<path d="M537.9,120.0 L537.9,154.0" stroke="#3a3a3a" stroke-width="1.2" fill="none" />
<path d="M595.7,120.0 L595.7,154.0" stroke="#3a3a3a" stroke-width="1.2" fill="none" />
<path d="M561.9,135.9 L558.6,135.7 L555.4,135.4 L552.4,135.0 L549.6,134.5 L547.0,133.9 L544.7,133.2 L542.7,132.5 L541.1,131.7 L539.8,130.9 L538.9,130.1" stroke="#3a3a3a" stroke-width="0.8" fill="none" />
<path d="M594.7,130.1 L593.9,130.8 L592.9,131.5 L591.6,132.2 L590.1,132.8 L588.3,133.4 L586.3,134.0 L584.1,134.5 L581.7,134.9 L579.2,135.3 L576.5,135.5" stroke="#3a3a3a" stroke-width="0.8" fill="none" />
<path d="M561.9,139.2 L558.6,139.0 L555.4,138.7 L552.4,138.3 L549.6,137.8 L547.0,137.2 L544.7,136.5 L542.7,135.8 L541.1,135.0 L539.8,134.2 L538.9,133.4" stroke="#3a3a3a" stroke-width="0.8" fill="none" />
<path d="M594.7,133.4 L593.9,134.1 L592.9,134.8 L591.6,135.5 L590.1,136.1 L588.3,136.7 L586.3,137.3 L584.1,137.8 L581.7,138.2 L579.2,138.6 L576.5,138.8" stroke="#3a3a3a" stroke-width="0.8" fill="none" />
<path d="M561.9,142.5 L558.6,142.3 L555.4,142.0 L552.4,141.6 L549.6,141.1 L547.0,140.5 L544.7,139.8 L542.7,139.1 L541.1,138.3 L539.8,137.5 L538.9,136.7" stroke="#3a3a3a" stroke-width="0.8" fill="none" />
<path d="M594.7,136.7 L593.9,137.4 L592.9,138.1 L591.6,138.8 L590.1,139.4 L588.3,140.0 L586.3,140.6 L584.1,141.1 L581.7,141.5 L579.2,141.9 L576.5,142.1" stroke="#3a3a3a" stroke-width="0.8" fill="none" />
<path d="M561.9,145.8 L558.6,145.6 L555.4,145.3 L552.4,144.9 L549.6,144.4 L547.0,143.8 L544.7,143.1 L542.7,142.4 L541.1,141.6 L539.8,140.8 L538.9,140.0" stroke="#3a3a3a" stroke-width="0.8" fill="none" />
<path d="M594.7,140.0 L593.9,140.7 L592.9,141.4 L591.6,142.1 L590.1,142.7 L588.3,143.3 L586.3,143.9 L584.1,144.4 L581.7,144.8 L579.2,145.2 L576.5,145.4" stroke="#3a3a3a" stroke-width="0.8" fill="none" />
<path d="M561.9,149.1 L558.6,148.9 L555.4,148.6 L552.4,148.2 L549.6,147.7 L547.0,147.1 L544.7,146.4 L542.7,145.7 L541.1,144.9 L539.8,144.1 L538.9,143.3" stroke="#3a3a3a" stroke-width="0.8" fill="none" />
<path d="M594.7,143.3 L593.9,144.0 L592.9,144.7 L591.6,145.4 L590.1,146.0 L588.3,146.6 L586.3,147.2 L584.1,147.7 L581.7,148.1 L579.2,148.5 L576.5,148.7" stroke="#3a3a3a" stroke-width="0.8" fill="none" />
<path d="M561.9,152.4 L558.6,152.2 L555.4,151.9 L552.4,151.5 L549.6,151.0 L547.0,150.4 L544.7,149.7 L542.7,149.0 L541.1,148.2 L539.8,147.4 L538.9,146.6" stroke="#3a3a3a" stroke-width="0.8" fill="none" />
<path d="M594.7,146.6 L593.9,147.3 L592.9,148.0 L591.6,148.7 L590.1,149.3 L588.3,149.9 L586.3,150.5 L584.1,151.0 L581.7,151.4 L579.2,151.8 L576.5,152.0" stroke="#3a3a3a" stroke-width="0.8" fill="none" />
<path d="M561.9,155.7 L558.6,155.5 L555.4,155.2 L552.4,154.8 L549.6,154.3 L547.0,153.7 L544.7,153.0 L542.7,152.3 L541.1,151.5 L539.8,150.7 L538.9,149.9" stroke="#3a3a3a" stroke-width="0.8" fill="none" />
<path d="M594.7,149.9 L593.9,150.6 L592.9,151.3 L591.6,152.0 L590.1,152.6 L588.3,153.2 L586.3,153.8 L584.1,154.3 L581.7,154.7 L579.2,155.1 L576.5,155.3" stroke="#3a3a3a" stroke-width="0.8" fill="none" />
<path d="M561.9,159.0 L558.6,158.8 L555.4,158.5 L552.4,158.1 L549.6,157.6 L547.0,157.0 L544.7,156.3 L542.7,155.6 L541.1,154.8 L539.8,154.0 L538.9,153.2" stroke="#3a3a3a" stroke-width="0.8" fill="none" />
<path d="M594.7,153.2 L593.9,153.9 L592.9,154.6 L591.6,155.3 L590.1,155.9 L588.3,156.5 L586.3,157.1 L584.1,157.6 L581.7,158.0 L579.2,158.4 L576.5,158.6" stroke="#3a3a3a" stroke-width="0.8" fill="none" />
<path d="M595.7,151.8 L595.6,152.4 L595.3,153.1 L594.9,153.7 L594.3,154.3 L593.5,154.9 L592.6,155.5 L591.4,156.1 L590.2,156.6 L588.8,157.1 L587.2,157.6 L585.6,158.0 L583.8,158.4 L581.9,158.8 L579.9,159.1 L577.9,159.4 L575.7,159.6 L573.5,159.8 L571.3,159.9 L569.1,160.0 L566.8,160.0 L564.5,160.0 L562.3,159.9 L560.1,159.8 L557.9,159.6 L555.7,159.4 L553.7,159.1 L551.7,158.8 L549.8,158.4 L548.0,158.0 L546.4,157.6 L544.8,157.1 L543.4,156.6 L542.2,156.1 L541.0,155.5 L540.1,154.9 L539.3,154.3 L538.7,153.7 L538.3,153.1 L538.0,152.4 L537.9,151.8" stroke="#3a3a3a" stroke-width="1.0" fill="none" />
<path d="M593.9,145.3 L596.7,146.3 L599.2,147.4 L601.1,148.5 L602.6,149.7 L603.6,151.0 L604.1,152.3 L604.1,153.6 L603.6,154.9 L602.6,156.1 L601.0,157.4 L599.0,158.5 L596.5,159.6 L593.7,160.6 L590.4,161.5 L586.9,162.3 L583.0,162.9 L578.9,163.4 L574.6,163.8 L570.2,164.0 L565.8,164.1 L561.4,164.0 L557.0,163.8 L552.7,163.4 L548.6,162.9 L544.7,162.3 L541.2,161.5 L537.9,160.6 L535.1,159.6 L532.6,158.5 L530.6,157.4 L529.0,156.1 L528.0,154.9 L527.5,153.6 L527.5,152.3 L528.0,151.0 L529.0,149.7 L530.5,148.5 L532.4,147.4 L534.9,146.3 L537.7,145.3" stroke="#3a3a3a" stroke-width="1.3" fill="none" />
<path d="M596.3,150.9 L598.0,151.7 L599.3,152.5 L600.2,153.4 L600.8,154.3 L601.0,155.2 L600.8,156.1 L600.2,157.0 L599.3,157.9 L598.0,158.7 L596.3,159.5 L594.3,160.3 L592.0,161.0 L589.4,161.6 L586.5,162.2 L583.4,162.6 L580.1,163.1 L576.7,163.4 L573.1,163.6 L569.5,163.8 L565.8,163.8 L562.1,163.8 L558.5,163.6 L554.9,163.4 L551.5,163.1 L548.2,162.6 L545.1,162.2 L542.2,161.6 L539.6,161.0 L537.3,160.3 L535.3,159.5 L533.6,158.7 L532.3,157.9 L531.4,157.0 L530.8,156.1 L530.6,155.2 L530.8,154.3 L531.4,153.4 L532.3,152.5 L533.6,151.7 L535.3,150.9" stroke="#3a3a3a" stroke-width="0.9" fill="none" />
<path d="M531.9,153.0 L531.9,208.8" stroke="#3a3a3a" stroke-width="1.2" fill="none" />
<path d="M601.8,153.0 L601.8,208.8" stroke="#3a3a3a" stroke-width="1.2" fill="none" />
<path d="M601.8,208.8 L601.7,209.8 L601.4,210.8 L600.8,211.8 L600.1,212.8 L599.1,213.8 L598.0,214.7 L596.6,215.6 L595.1,216.4 L593.4,217.2 L591.6,218.0 L589.5,218.7 L587.4,219.3 L585.1,219.9 L582.7,220.4 L580.2,220.8 L577.7,221.2 L575.0,221.4 L572.3,221.6 L569.6,221.8 L566.9,221.8 L564.1,221.8 L561.4,221.6 L558.7,221.4 L556.0,221.2 L553.5,220.8 L551.0,220.4 L548.6,219.9 L546.3,219.3 L544.2,218.7 L542.1,218.0 L540.3,217.2 L538.6,216.4 L537.1,215.6 L535.7,214.7 L534.6,213.8 L533.6,212.8 L532.9,211.8 L532.3,210.8 L532.0,209.8 L531.9,208.8" stroke="#3a3a3a" stroke-width="1.2" fill="none" />
<path d="M556.4,222.0 L556.4,376.0" stroke="#3a3a3a" stroke-width="1.3" fill="none" />
<path d="M576.3,222.0 L576.3,376.0" stroke="#3a3a3a" stroke-width="1.3" fill="none" />
<path d="M576.3,376.0 L576.3,376.5 L576.2,377.1 L576.0,377.6 L575.8,378.2 L575.5,378.7 L575.2,379.2 L574.8,379.7 L574.4,380.1 L573.9,380.5 L573.4,380.9 L572.8,381.3 L572.2,381.7 L571.5,382.0 L570.9,382.2 L570.2,382.5 L569.4,382.7 L568.7,382.8 L567.9,382.9 L567.1,383.0 L566.4,383.0 L565.6,383.0 L564.8,382.9 L564.0,382.8 L563.3,382.7 L562.5,382.5 L561.8,382.2 L561.2,382.0 L560.5,381.7 L559.9,381.3 L559.3,380.9 L558.8,380.5 L558.3,380.1 L557.9,379.7 L557.5,379.2 L557.2,378.7 L556.9,378.2 L556.7,377.6 L556.5,377.1 L556.4,376.5 L556.4,376.0" stroke="#3a3a3a" stroke-width="1.2" fill="none" />
</g>
<path d="M470.0,221.0 L556.4,263.0" stroke="#3a3a3a" stroke-width="1.2" fill="none" />
<path d="M467.0,242.0 L556.4,285.8" stroke="#3a3a3a" stroke-width="1.2" fill="none" />
<path d="M468.8,242.1 L468.2,242.1 L467.6,242.0 L467.0,241.8 L466.5,241.6 L465.9,241.3 L465.4,240.9 L464.9,240.5 L464.4,240.1 L463.9,239.6 L463.5,239.0 L463.1,238.4 L462.7,237.7 L462.4,237.0 L462.1,236.3 L461.9,235.6 L461.7,234.8 L461.5,234.0 L461.4,233.2 L461.3,232.3 L461.3,231.5 L461.3,230.7 L461.4,229.8 L461.5,229.0 L461.7,228.2 L461.9,227.4 L462.1,226.7 L462.4,226.0 L462.7,225.3 L463.1,224.6 L463.5,224.0 L463.9,223.4 L464.4,222.9 L464.9,222.5 L465.4,222.1 L465.9,221.7 L466.5,221.4 L467.0,221.2 L467.6,221.0 L468.2,220.9 L468.8,220.9" stroke="#3a3a3a" stroke-width="1.2" fill="none" />
<ellipse cx="463.3" cy="48.8" rx="6.3" ry="3.3" stroke="#3a3a3a" stroke-width="1.1" fill="#fff" />
<path d="M460.5,49.8 Q463.3,45.8 466,49.8" stroke="#3a3a3a" stroke-width="0.7" fill="none" />
<rect x="459.4" y="53" width="7.2" height="13" rx="2" fill="#fff" stroke="#3a3a3a" stroke-width="1.1"/>
<path d="M459.8,55.2 L466.2,55.2" stroke="#3a3a3a" stroke-width="0.8" fill="none" />
<path d="M459.8,57.2 L466.2,57.2" stroke="#3a3a3a" stroke-width="0.8" fill="none" />
<path d="M459.8,59.2 L466.2,59.2" stroke="#3a3a3a" stroke-width="0.8" fill="none" />
<path d="M459.8,61.2 L466.2,61.2" stroke="#3a3a3a" stroke-width="0.8" fill="none" />
<path d="M459.8,63.2 L466.2,63.2" stroke="#3a3a3a" stroke-width="0.8" fill="none" />
<path d="M459.8,65.2 L466.2,65.2" stroke="#3a3a3a" stroke-width="0.8" fill="none" />
<path d="M447.2,55.1 L444.5,55.8 L442.0,56.7 L439.7,57.6 L437.7,58.7 L436.0,59.8 L434.6,61.0 L433.6,62.3 L432.9,63.6 L432.5,64.9 L432.6,66.2 L432.9,67.6 L433.7,68.8 L434.8,70.1 L436.2,71.3 L437.9,72.4 L439.9,73.5 L442.2,74.4 L444.8,75.2 L447.5,76.0 L450.5,76.5 L453.5,77.0 L456.7,77.3 L460.0,77.5 L463.2,77.5 L466.5,77.4 L469.7,77.1 L472.8,76.7 L475.8,76.1 L478.6,75.4 L481.2,74.6 L483.5,73.7 L485.6,72.7 L487.4,71.6 L488.9,70.4 L490.1,69.2 L490.9,67.9 L491.4,66.6 L491.5,65.2 L491.2,63.9 L490.6,62.6" stroke="#3a3a3a" stroke-width="1.1" fill="none" />
<path d="M483.4,54.4 L492.9,60.3 L487.8,61.9 Z" fill="#3a3a3a" stroke="#3a3a3a" stroke-width="0.6"/>
<circle cx="488.9" cy="44.3" r="7" stroke="#3a3a3a" stroke-width="1.0" fill="none"/>
<text x="0" y="0" transform="translate(488.9 49.201) scale(0.62 1)" font-family="Liberation Serif" font-size="14.5" fill="#3a3a3a" text-anchor="middle" font-weight="normal">1</text>
<circle cx="367.9" cy="122.5" r="6.9" stroke="#3a3a3a" stroke-width="1.0" fill="none"/>
<text x="0" y="0" transform="translate(367.9 127.401) scale(0.62 1)" font-family="Liberation Serif" font-size="14.5" fill="#3a3a3a" text-anchor="middle" font-weight="normal">2</text>
<path d="M379.4,115.7 L379.4,135.0" stroke="#3a3a3a" stroke-width="1.0" fill="none" />
<path d="M376.9,133.2 L382.2,133.2 L379.4,148.4 Z" fill="#3a3a3a" stroke="#3a3a3a" stroke-width="0.6"/>
<g transform="translate(52.8 697)">
<path d="M387.1,101.7 L469.5,59.5" stroke="#3a3a3a" stroke-width="1.2" fill="none" />
<path d="M469.5,59.3 C470.7,60.3 474.6,63.0 476.5,65.5 C478.4,68.0 479.8,71.8 480.6,74.6 C481.4,77.3 481.4,79.8 481.2,82.0 C481.0,84.2 479.8,86.6 479.5,87.5" stroke="#3a3a3a" stroke-width="1.0" fill="none" />
<path d="M481.2,82.0 C480.4,83.7 478.7,89.0 476.3,92.1 C473.9,95.2 470.9,98.3 466.7,100.8 C462.5,103.3 456.2,105.4 450.9,107.1 C445.6,108.8 441.6,110.2 435.0,110.8 C428.4,111.4 416.8,110.9 411.4,110.5 C406.0,110.1 406.4,109.9 402.4,108.4 C398.3,106.9 389.7,102.8 387.1,101.7" stroke="#3a3a3a" stroke-width="1.7" fill="none" />
<path d="M387.1,101.7 L387.1,115.5" stroke="#3a3a3a" stroke-width="1.2" fill="none" />
<path d="M387.1,115.5 C389.7,116.3 398.2,119.2 402.4,120.2 C406.5,121.2 406.6,121.5 412.0,121.8 C417.4,122.1 428.5,122.8 435.0,122.3 C441.5,121.8 445.9,120.1 450.9,118.6 C455.9,117.1 461.0,115.4 465.2,113.5 C469.4,111.6 473.4,109.7 476.3,107.1 C479.2,104.5 481.2,100.6 482.4,98.0 C483.6,95.4 483.5,93.2 483.4,91.3 C483.3,89.4 482.1,87.3 481.8,86.5" stroke="#3a3a3a" stroke-width="1.7" fill="none" />
<path d="M462.8,104.2 L462.8,115.2" stroke="#3a3a3a" stroke-width="1.0" fill="none" />
<path d="M466.3,102.6 L466.3,114.0" stroke="#3a3a3a" stroke-width="1.0" fill="none" />
<path d="M385.6,116.6 L385.6,336.7" stroke="#3a3a3a" stroke-width="1.3" fill="none" />
<path d="M385.6,336.7 C388.4,337.8 395.3,341.3 402.4,343.2 C409.5,345.1 418.6,348.1 428.0,347.8 C437.4,347.5 451.2,344.3 459.1,341.6 C467.0,338.9 471.2,335.3 475.3,331.8 C479.4,328.3 482.2,322.4 483.6,320.5" stroke="#3a3a3a" stroke-width="1.2" fill="none" />
<path d="M483.8,99.2 L483.8,227.5" stroke="#3a3a3a" stroke-width="1.3" fill="none" />
<path d="M483.8,250.5 L483.8,320.5" stroke="#3a3a3a" stroke-width="1.3" fill="none" />
<ellipse cx="462.4" cy="95.1" rx="4.2" ry="2.4" stroke="#3a3a3a" stroke-width="1.0" fill="none" />
<path d="M462.4,68.3 L462.4,92.7" stroke="#3a3a3a" stroke-width="0.9" fill="none" />
<path d="M388.4,120.0 L388.4,262.0" stroke="#4de64d" stroke-width="1.3" fill="none" />
<path d="M388.4,278.0 L388.4,300.0" stroke="#4de64d" stroke-width="1.3" fill="none" />
<ellipse cx="461.2" cy="121.6" rx="5.0" ry="3.4" stroke="#4de64d" stroke-width="1.1" fill="none" />
<ellipse cx="461.5" cy="121.8" rx="2.2" ry="1.6" stroke="#4de64d" stroke-width="1.0" fill="none" />
<path d="M456.0,124.0 L452.0,127.0" stroke="#4de64d" stroke-width="1.0" fill="none" />
<path d="M466.0,118.0 L476.0,123.5" stroke="#4de64d" stroke-width="1.0" fill="none" />
<ellipse cx="404" cy="230.5" rx="6.3" ry="3.1" stroke="#4de64d" stroke-width="1.2" fill="none" transform="rotate(-40 404 230.5)" />
<path d="M400.6,233.6 L400.7,233.0 L401.1,232.2 L401.7,231.3 L402.5,230.5 L403.4,229.6 L404.3,228.9 L405.3,228.3 L406.3,227.9 L407.1,227.6 L407.8,227.6" stroke="#4de64d" stroke-width="0.8" fill="none" />
<ellipse cx="404" cy="244.3" rx="6.3" ry="3.1" stroke="#4de64d" stroke-width="1.2" fill="none" transform="rotate(-40 404 244.3)" />
<path d="M400.6,247.4 L400.7,246.8 L401.1,246.0 L401.7,245.1 L402.5,244.3 L403.4,243.4 L404.3,242.7 L405.3,242.1 L406.3,241.7 L407.1,241.4 L407.8,241.4" stroke="#4de64d" stroke-width="0.8" fill="none" />
<ellipse cx="404" cy="258.9" rx="6.3" ry="3.1" stroke="#4de64d" stroke-width="1.2" fill="none" transform="rotate(-40 404 258.9)" />
<path d="M400.6,262.0 L400.7,261.4 L401.1,260.6 L401.7,259.7 L402.5,258.9 L403.4,258.0 L404.3,257.3 L405.3,256.7 L406.3,256.3 L407.1,256.0 L407.8,256.0" stroke="#4de64d" stroke-width="0.8" fill="none" />
<path d="M388.4,262.0 L395.5,258.5 L397.5,262.5 L392.5,266.0 L392.5,275.5 L388.4,278.0" stroke="#4de64d" stroke-width="1.1" fill="none" />
<ellipse cx="428" cy="242.7" rx="6.8" ry="10.2" stroke="#4de64d" stroke-width="1.2" fill="none" transform="rotate(18 428 242.7)" />
<ellipse cx="427.4" cy="243.6" rx="2.6" ry="5.2" stroke="#4de64d" stroke-width="1.1" fill="none" transform="rotate(18 427.4 243.6)" />
<path d="M423.5,251.5 C423.2,252.6 421.6,255.9 421.8,258.0 C422.1,260.1 424.6,261.8 425.0,264.0 C425.4,266.2 424.6,270.2 424.5,271.5" stroke="#4de64d" stroke-width="1.0" fill="none" />
<path d="M427.5,253.0 C427.3,254.0 426.2,257.1 426.5,259.0 C426.8,260.9 429.1,262.8 429.5,264.5 C429.9,266.2 428.9,268.7 428.8,269.5" stroke="#4de64d" stroke-width="1.0" fill="none" />
<path d="M444.3,225.8 C444.8,227.5 447.9,232.1 447.3,236.0 C446.7,239.9 441.5,244.7 440.6,249.0 C439.7,253.3 441.6,259.8 441.8,262.0" stroke="#4de64d" stroke-width="1.0" fill="none" />
<path d="M448.2,224.8 C448.7,226.7 451.8,231.9 451.2,236.0 C450.6,240.1 445.2,245.5 444.3,249.5 C443.4,253.5 445.4,258.2 445.6,260.0" stroke="#4de64d" stroke-width="1.0" fill="none" />
<path d="M423.5,271.9 L451.0,255.6 L462.4,262.0 L436.5,278.0 Z" stroke="#4de64d" stroke-width="1.2" fill="none" />
<path d="M423.5,271.9 L423.5,281.5 L436.5,287.8 L436.5,278.0" stroke="#4de64d" stroke-width="1.2" fill="none" />
<path d="M436.5,287.8 L462.4,271.8 L462.4,262.0" stroke="#4de64d" stroke-width="1.2" fill="none" />
<path d="M426.5,284.0 L426.5,287.2 L436.8,293.5 L458.5,280.5 L458.5,277.0" stroke="#4de64d" stroke-width="1.7" fill="none" />
<path d="M455.5,276.2 L461.5,276.8 L458.6,273.4" stroke="#4de64d" stroke-width="1.0" fill="none" />
<path d="M388.4,285.0 L401.6,290.2 L401.6,302.0 L388.4,297.0 Z" stroke="#4de64d" stroke-width="1.2" fill="none" />
<path d="M388.4,285.0 L391.2,283.0 L403.8,288.0 L401.6,290.2" stroke="#4de64d" stroke-width="1.0" fill="none" />
<path d="M465.6,251.0 L477.0,256.2 L477.0,267.2 L465.6,262.0 Z" stroke="#4de64d" stroke-width="1.2" fill="none" />
<path d="M465.6,251.0 L468.0,248.8 L479.2,254.0 L477.0,256.2" stroke="#4de64d" stroke-width="1.0" fill="none" />
<path d="M401.6,290.5 L423.5,279.0" stroke="#4de64d" stroke-width="1.0" fill="none" />
<path d="M458.0,258.2 L465.6,254.0" stroke="#4de64d" stroke-width="1.0" fill="none" />
<path d="M388.4,300.0 C390.3,300.8 393.1,303.5 400.0,305.0 C406.9,306.5 420.8,309.5 430.0,309.2 C439.2,308.9 448.0,306.2 455.0,303.2 C462.0,300.2 467.8,295.9 472.0,291.0 C476.2,286.1 479.5,278.4 480.3,274.0 C481.1,269.6 477.6,266.1 477.0,264.5" stroke="#4de64d" stroke-width="1.6" fill="none" />
<path d="M392.0,302.6 C398.3,303.3 417.0,308.9 430.0,306.8 C443.0,304.7 462.0,295.6 470.0,290.0 C478.0,284.4 476.7,275.8 478.0,273.0" stroke="#4de64d" stroke-width="0.8" fill="none" />
<path d="M466.5,131.0 L466.5,248.0" stroke="#4de64d" stroke-width="1.3" fill="none" />
<ellipse cx="451.3" cy="113.2" rx="3.0" ry="5.2" stroke="#3a3a3a" stroke-width="1.1" fill="none" transform="rotate(40 451.3 113.2)" />
<path d="M449.5,116.5 L453.0,110.0" stroke="#3a3a3a" stroke-width="0.9" fill="none" />
<ellipse cx="409.2" cy="132.6" rx="7.6" ry="10.2" stroke="#4de64d" stroke-width="1.2" fill="none" transform="rotate(20 409.2 132.6)" />
<ellipse cx="409.6" cy="132.2" rx="5.0" ry="7.0" stroke="#4de64d" stroke-width="1.0" fill="none" transform="rotate(20 409.6 132.2)" />
<path d="M406.5,135.5 L412.0,129.0" stroke="#4de64d" stroke-width="0.8" fill="none" />
<ellipse cx="403.2" cy="163.8" rx="2.9" ry="7.0" stroke="#4de64d" stroke-width="1.2" fill="none" transform="rotate(10 403.2 163.8)" />
<path d="M405.3,158.9 L405.6,159.6 L405.7,160.5 L405.8,161.6 L405.7,162.8 L405.6,164.1 L405.3,165.4 L404.9,166.6 L404.5,167.6 L404.0,168.4 L403.5,168.9" stroke="#4de64d" stroke-width="0.8" fill="none" />
<ellipse cx="403.2" cy="187.8" rx="2.9" ry="7.0" stroke="#4de64d" stroke-width="1.2" fill="none" transform="rotate(10 403.2 187.8)" />
<path d="M405.3,182.9 L405.6,183.6 L405.7,184.5 L405.8,185.6 L405.7,186.8 L405.6,188.1 L405.3,189.4 L404.9,190.6 L404.5,191.6 L404.0,192.4 L403.5,192.9" stroke="#4de64d" stroke-width="0.8" fill="none" />
<path d="M458.5,219.0 L466.5,217.0 L469.5,219.5 L469.5,236.0 L466.5,238.5 L458.5,237.0" stroke="#4de64d" stroke-width="1.0" fill="none" />
</g>
<g transform="translate(53 699.5)">
<ellipse cx="566.8" cy="120" rx="28.9" ry="10.0" stroke="#3a3a3a" stroke-width="1.3" fill="none" />
<ellipse cx="566.8" cy="121.2" rx="26.6" ry="8.2" stroke="#3a3a3a" stroke-width="0.9" fill="none" />
<path d="M537.9,120.0 L537.9,154.0" stroke="#3a3a3a" stroke-width="1.2" fill="none" />
<path d="M595.7,120.0 L595.7,154.0" stroke="#3a3a3a" stroke-width="1.2" fill="none" />
<path d="M561.9,135.9 L558.6,135.7 L555.4,135.4 L552.4,135.0 L549.6,134.5 L547.0,133.9 L544.7,133.2 L542.7,132.5 L541.1,131.7 L539.8,130.9 L538.9,130.1" stroke="#3a3a3a" stroke-width="0.8" fill="none" />
<path d="M594.7,130.1 L593.9,130.8 L592.9,131.5 L591.6,132.2 L590.1,132.8 L588.3,133.4 L586.3,134.0 L584.1,134.5 L581.7,134.9 L579.2,135.3 L576.5,135.5" stroke="#3a3a3a" stroke-width="0.8" fill="none" />
<path d="M561.9,139.2 L558.6,139.0 L555.4,138.7 L552.4,138.3 L549.6,137.8 L547.0,137.2 L544.7,136.5 L542.7,135.8 L541.1,135.0 L539.8,134.2 L538.9,133.4" stroke="#3a3a3a" stroke-width="0.8" fill="none" />
<path d="M594.7,133.4 L593.9,134.1 L592.9,134.8 L591.6,135.5 L590.1,136.1 L588.3,136.7 L586.3,137.3 L584.1,137.8 L581.7,138.2 L579.2,138.6 L576.5,138.8" stroke="#3a3a3a" stroke-width="0.8" fill="none" />
<path d="M561.9,142.5 L558.6,142.3 L555.4,142.0 L552.4,141.6 L549.6,141.1 L547.0,140.5 L544.7,139.8 L542.7,139.1 L541.1,138.3 L539.8,137.5 L538.9,136.7" stroke="#3a3a3a" stroke-width="0.8" fill="none" />
<path d="M594.7,136.7 L593.9,137.4 L592.9,138.1 L591.6,138.8 L590.1,139.4 L588.3,140.0 L586.3,140.6 L584.1,141.1 L581.7,141.5 L579.2,141.9 L576.5,142.1" stroke="#3a3a3a" stroke-width="0.8" fill="none" />
<path d="M561.9,145.8 L558.6,145.6 L555.4,145.3 L552.4,144.9 L549.6,144.4 L547.0,143.8 L544.7,143.1 L542.7,142.4 L541.1,141.6 L539.8,140.8 L538.9,140.0" stroke="#3a3a3a" stroke-width="0.8" fill="none" />
<path d="M594.7,140.0 L593.9,140.7 L592.9,141.4 L591.6,142.1 L590.1,142.7 L588.3,143.3 L586.3,143.9 L584.1,144.4 L581.7,144.8 L579.2,145.2 L576.5,145.4" stroke="#3a3a3a" stroke-width="0.8" fill="none" />
<path d="M561.9,149.1 L558.6,148.9 L555.4,148.6 L552.4,148.2 L549.6,147.7 L547.0,147.1 L544.7,146.4 L542.7,145.7 L541.1,144.9 L539.8,144.1 L538.9,143.3" stroke="#3a3a3a" stroke-width="0.8" fill="none" />
<path d="M594.7,143.3 L593.9,144.0 L592.9,144.7 L591.6,145.4 L590.1,146.0 L588.3,146.6 L586.3,147.2 L584.1,147.7 L581.7,148.1 L579.2,148.5 L576.5,148.7" stroke="#3a3a3a" stroke-width="0.8" fill="none" />
<path d="M561.9,152.4 L558.6,152.2 L555.4,151.9 L552.4,151.5 L549.6,151.0 L547.0,150.4 L544.7,149.7 L542.7,149.0 L541.1,148.2 L539.8,147.4 L538.9,146.6" stroke="#3a3a3a" stroke-width="0.8" fill="none" />
<path d="M594.7,146.6 L593.9,147.3 L592.9,148.0 L591.6,148.7 L590.1,149.3 L588.3,149.9 L586.3,150.5 L584.1,151.0 L581.7,151.4 L579.2,151.8 L576.5,152.0" stroke="#3a3a3a" stroke-width="0.8" fill="none" />
<path d="M561.9,155.7 L558.6,155.5 L555.4,155.2 L552.4,154.8 L549.6,154.3 L547.0,153.7 L544.7,153.0 L542.7,152.3 L541.1,151.5 L539.8,150.7 L538.9,149.9" stroke="#3a3a3a" stroke-width="0.8" fill="none" />
<path d="M594.7,149.9 L593.9,150.6 L592.9,151.3 L591.6,152.0 L590.1,152.6 L588.3,153.2 L586.3,153.8 L584.1,154.3 L581.7,154.7 L579.2,155.1 L576.5,155.3" stroke="#3a3a3a" stroke-width="0.8" fill="none" />
<path d="M561.9,159.0 L558.6,158.8 L555.4,158.5 L552.4,158.1 L549.6,157.6 L547.0,157.0 L544.7,156.3 L542.7,155.6 L541.1,154.8 L539.8,154.0 L538.9,153.2" stroke="#3a3a3a" stroke-width="0.8" fill="none" />
<path d="M594.7,153.2 L593.9,153.9 L592.9,154.6 L591.6,155.3 L590.1,155.9 L588.3,156.5 L586.3,157.1 L584.1,157.6 L581.7,158.0 L579.2,158.4 L576.5,158.6" stroke="#3a3a3a" stroke-width="0.8" fill="none" />
<path d="M595.7,151.8 L595.6,152.4 L595.3,153.1 L594.9,153.7 L594.3,154.3 L593.5,154.9 L592.6,155.5 L591.4,156.1 L590.2,156.6 L588.8,157.1 L587.2,157.6 L585.6,158.0 L583.8,158.4 L581.9,158.8 L579.9,159.1 L577.9,159.4 L575.7,159.6 L573.5,159.8 L571.3,159.9 L569.1,160.0 L566.8,160.0 L564.5,160.0 L562.3,159.9 L560.1,159.8 L557.9,159.6 L555.7,159.4 L553.7,159.1 L551.7,158.8 L549.8,158.4 L548.0,158.0 L546.4,157.6 L544.8,157.1 L543.4,156.6 L542.2,156.1 L541.0,155.5 L540.1,154.9 L539.3,154.3 L538.7,153.7 L538.3,153.1 L538.0,152.4 L537.9,151.8" stroke="#3a3a3a" stroke-width="1.0" fill="none" />
<path d="M593.9,145.3 L596.7,146.3 L599.2,147.4 L601.1,148.5 L602.6,149.7 L603.6,151.0 L604.1,152.3 L604.1,153.6 L603.6,154.9 L602.6,156.1 L601.0,157.4 L599.0,158.5 L596.5,159.6 L593.7,160.6 L590.4,161.5 L586.9,162.3 L583.0,162.9 L578.9,163.4 L574.6,163.8 L570.2,164.0 L565.8,164.1 L561.4,164.0 L557.0,163.8 L552.7,163.4 L548.6,162.9 L544.7,162.3 L541.2,161.5 L537.9,160.6 L535.1,159.6 L532.6,158.5 L530.6,157.4 L529.0,156.1 L528.0,154.9 L527.5,153.6 L527.5,152.3 L528.0,151.0 L529.0,149.7 L530.5,148.5 L532.4,147.4 L534.9,146.3 L537.7,145.3" stroke="#3a3a3a" stroke-width="1.3" fill="none" />
<path d="M596.3,150.9 L598.0,151.7 L599.3,152.5 L600.2,153.4 L600.8,154.3 L601.0,155.2 L600.8,156.1 L600.2,157.0 L599.3,157.9 L598.0,158.7 L596.3,159.5 L594.3,160.3 L592.0,161.0 L589.4,161.6 L586.5,162.2 L583.4,162.6 L580.1,163.1 L576.7,163.4 L573.1,163.6 L569.5,163.8 L565.8,163.8 L562.1,163.8 L558.5,163.6 L554.9,163.4 L551.5,163.1 L548.2,162.6 L545.1,162.2 L542.2,161.6 L539.6,161.0 L537.3,160.3 L535.3,159.5 L533.6,158.7 L532.3,157.9 L531.4,157.0 L530.8,156.1 L530.6,155.2 L530.8,154.3 L531.4,153.4 L532.3,152.5 L533.6,151.7 L535.3,150.9" stroke="#3a3a3a" stroke-width="0.9" fill="none" />
<path d="M531.9,153.0 L531.9,208.8" stroke="#3a3a3a" stroke-width="1.2" fill="none" />
<path d="M601.8,153.0 L601.8,208.8" stroke="#3a3a3a" stroke-width="1.2" fill="none" />
<path d="M601.8,208.8 L601.7,209.8 L601.4,210.8 L600.8,211.8 L600.1,212.8 L599.1,213.8 L598.0,214.7 L596.6,215.6 L595.1,216.4 L593.4,217.2 L591.6,218.0 L589.5,218.7 L587.4,219.3 L585.1,219.9 L582.7,220.4 L580.2,220.8 L577.7,221.2 L575.0,221.4 L572.3,221.6 L569.6,221.8 L566.9,221.8 L564.1,221.8 L561.4,221.6 L558.7,221.4 L556.0,221.2 L553.5,220.8 L551.0,220.4 L548.6,219.9 L546.3,219.3 L544.2,218.7 L542.1,218.0 L540.3,217.2 L538.6,216.4 L537.1,215.6 L535.7,214.7 L534.6,213.8 L533.6,212.8 L532.9,211.8 L532.3,210.8 L532.0,209.8 L531.9,208.8" stroke="#3a3a3a" stroke-width="1.2" fill="none" />
<path d="M556.4,222.0 L556.4,376.0" stroke="#3a3a3a" stroke-width="1.3" fill="none" />
<path d="M576.3,222.0 L576.3,376.0" stroke="#3a3a3a" stroke-width="1.3" fill="none" />
<path d="M576.3,376.0 L576.3,376.5 L576.2,377.1 L576.0,377.6 L575.8,378.2 L575.5,378.7 L575.2,379.2 L574.8,379.7 L574.4,380.1 L573.9,380.5 L573.4,380.9 L572.8,381.3 L572.2,381.7 L571.5,382.0 L570.9,382.2 L570.2,382.5 L569.4,382.7 L568.7,382.8 L567.9,382.9 L567.1,383.0 L566.4,383.0 L565.6,383.0 L564.8,382.9 L564.0,382.8 L563.3,382.7 L562.5,382.5 L561.8,382.2 L561.2,382.0 L560.5,381.7 L559.9,381.3 L559.3,380.9 L558.8,380.5 L558.3,380.1 L557.9,379.7 L557.5,379.2 L557.2,378.7 L556.9,378.2 L556.7,377.6 L556.5,377.1 L556.4,376.5 L556.4,376.0" stroke="#3a3a3a" stroke-width="1.2" fill="none" />
</g>
<path d="M530.3,922.5 L608.8,962.0" stroke="#3a3a3a" stroke-width="1.2" fill="none" />
<path d="M525.0,943.8 L608.8,984.9" stroke="#3a3a3a" stroke-width="1.2" fill="none" />
<g transform="translate(52.7 703)">
<ellipse cx="463.3" cy="48.8" rx="6.3" ry="3.3" stroke="#3a3a3a" stroke-width="1.1" fill="#fff" />
<path d="M460.5,49.8 Q463.3,45.8 466,49.8" stroke="#3a3a3a" stroke-width="0.7" fill="none" />
<rect x="459.4" y="53" width="7.2" height="13" rx="2" fill="#fff" stroke="#3a3a3a" stroke-width="1.1"/>
<path d="M459.8,55.2 L466.2,55.2" stroke="#3a3a3a" stroke-width="0.8" fill="none" />
<path d="M459.8,57.2 L466.2,57.2" stroke="#3a3a3a" stroke-width="0.8" fill="none" />
<path d="M459.8,59.2 L466.2,59.2" stroke="#3a3a3a" stroke-width="0.8" fill="none" />
<path d="M459.8,61.2 L466.2,61.2" stroke="#3a3a3a" stroke-width="0.8" fill="none" />
<path d="M459.8,63.2 L466.2,63.2" stroke="#3a3a3a" stroke-width="0.8" fill="none" />
<path d="M459.8,65.2 L466.2,65.2" stroke="#3a3a3a" stroke-width="0.8" fill="none" />
</g>
<path d="M487.1,762.3 L486.5,763.5 L486.1,764.7 L486.0,765.9 L486.1,767.2 L486.5,768.4 L487.1,769.6 L487.9,770.8 L488.9,771.9 L490.2,773.0 L491.7,774.0 L493.4,775.0 L495.2,775.9 L497.2,776.7 L499.4,777.4 L501.7,778.0 L504.1,778.5 L506.6,778.9 L509.2,779.2 L511.8,779.4 L514.5,779.5 L517.1,779.5 L519.8,779.3 L522.4,779.1 L524.9,778.7 L527.4,778.2 L529.7,777.6 L531.9,777.0 L534.0,776.2 L535.9,775.3 L537.7,774.4 L539.3,773.4 L540.6,772.3 L541.7,771.2 L542.7,770.1 L543.3,768.9 L543.8,767.6 L544.0,766.4 L543.9,765.2 L543.7,763.9 L543.1,762.7" stroke="#3a3a3a" stroke-width="1.1" fill="none" />
<path d="M496.4,755.4 L485,761.4 L490.4,762.4 Z" fill="#3a3a3a" stroke="#3a3a3a" stroke-width="0.6"/>
<circle cx="487.4" cy="748.5" r="7" stroke="#3a3a3a" stroke-width="1.0" fill="none"/>
<text x="0" y="0" transform="translate(487.4 753.401) scale(0.62 1)" font-family="Liberation Serif" font-size="14.5" fill="#3a3a3a" text-anchor="middle" font-weight="normal">8</text>
<circle cx="415.5" cy="984.9" r="6.9" stroke="#3a3a3a" stroke-width="1.0" fill="none"/>
<text x="0" y="0" transform="translate(415.5 989.8009999999999) scale(0.62 1)" font-family="Liberation Serif" font-size="14.5" fill="#3a3a3a" text-anchor="middle" font-weight="normal">7</text>
<path d="M428.5,980.0 L428.5,998.4" stroke="#3a3a3a" stroke-width="1.0" fill="none" />
<path d="M425.8,980.5 L431.2,980.5 L428.5,964.9 Z" fill="#3a3a3a" stroke="#3a3a3a" stroke-width="0.6"/>
<path d="M621,762 V818" stroke="#555" stroke-width="0.8" stroke-dasharray="6 2 1 2" fill="none"/>
<path d="M92.4,390.6 A30.9,30.9 0 1 1 99.7,397.3 L80.1,411.9 Z" stroke="#3a3a3a" stroke-width="1.1" fill="#fff" />
<path d="M112.4,375.4 C112.4,373.8 112.0,368.2 112.2,366.0 C112.4,363.8 113.4,363.3 113.4,362.0 C113.4,360.7 112.2,359.3 112.2,358.0 C112.2,356.7 113.4,355.3 113.4,354.0 C113.4,352.7 112.2,351.3 112.2,350.0 C112.2,348.7 112.9,347.1 113.6,346.0 C114.3,344.9 116.1,344.0 116.6,343.6" stroke="#3a3a3a" stroke-width="1.0" fill="none" />
<path d="M116.6,343.6 C117.2,344.0 119.4,344.9 120.2,346.0 C121.0,347.1 121.6,348.7 121.6,350.0 C121.6,351.3 120.4,352.7 120.4,354.0 C120.4,355.3 121.6,356.7 121.6,358.0 C121.6,359.3 120.4,360.7 120.4,362.0 C120.4,363.3 121.4,363.8 121.6,366.0 C121.8,368.2 121.4,373.8 121.4,375.4" stroke="#3a3a3a" stroke-width="1.0" fill="none" />
<path d="M112.4,375.4 L112.6,390.4 L109.5,391.2 L109.5,395.0 L112.5,395.5 L112.5,399.8 L120.6,399.8 L120.6,395.5 L123.4,395.0 L123.4,391.2 L120.8,390.4 L121.4,375.4" stroke="#3a3a3a" stroke-width="1.0" fill="none" />
<path d="M116.2,344.5 L116.2,375.0" stroke="#3a3a3a" stroke-width="0.9" fill="none" />
<path d="M117.9,344.5 L117.9,375.0" stroke="#3a3a3a" stroke-width="1.3" fill="none" />
<ellipse cx="76.7" cy="402.6" rx="3.2" ry="4.6" stroke="#3a3a3a" stroke-width="1.0" fill="none" transform="rotate(30 76.7 402.6)" />
<ellipse cx="35" cy="421.9" rx="3.2" ry="4.6" stroke="#3a3a3a" stroke-width="1.0" fill="none" transform="rotate(30 35 421.9)" />
<path d="M86.8,409.0 L109.8,421.4" stroke="#666" stroke-width="0.8" fill="none" stroke-dasharray="1.2 1.8"/>
<path d="M39.0,424.9 L74.9,443.9" stroke="#666" stroke-width="0.8" fill="none" stroke-dasharray="1.2 1.8"/>
<path d="M103.8,460.8 L125.7,472.2" stroke="#666" stroke-width="0.8" fill="none" stroke-dasharray="1.2 1.8"/>
<path d="M157.7,447.9 L192.4,470.0" stroke="#666" stroke-width="0.8" fill="none" stroke-dasharray="1.2 1.8"/>
<ellipse cx="54.4" cy="550.6" rx="3.0" ry="4.4" stroke="#3a3a3a" stroke-width="1.0" fill="none" transform="rotate(25 54.4 550.6)" />
<path d="M57.5,553.5 L75.8,562.5" stroke="#777" stroke-width="0.8" fill="none" />
<path d="M84.0,615.0 L125.8,639.7" stroke="#666" stroke-width="0.8" fill="none" stroke-dasharray="1.2 1.8"/>
<path d="M153.7,398.4 C155.2,399.8 160.0,403.6 162.5,406.5 C165.0,409.4 167.3,413.1 168.5,416.0 C169.7,418.9 170.4,420.8 169.6,423.9 C168.8,427.0 166.9,431.6 163.6,434.9 C160.3,438.2 156.3,441.1 149.7,443.9 C143.0,446.7 132.0,450.6 123.7,451.6 C115.4,452.6 107.9,451.2 99.8,449.9 C91.7,448.6 79.1,444.9 74.9,443.9 L153.7,398.4 Z" stroke="#3a3a3a" stroke-width="1.1" fill="#fff" />
<path d="M169.8,424.5 C168.9,426.5 167.8,432.9 164.5,436.5 C161.2,440.1 156.8,443.1 150.0,446.0 C143.2,448.9 132.1,453.0 123.7,454.0 C115.3,455.0 107.8,453.3 99.8,452.0 C91.8,450.7 80.0,447.0 76.0,446.0" stroke="#3a3a3a" stroke-width="1.3" fill="none" />
<ellipse cx="151.1" cy="436.5" rx="4.4" ry="2.5" stroke="#3a3a3a" stroke-width="1.0" fill="none" />
<path d="M75.9,444.5 L75.9,600.6 L85.3,598.3 L85.3,605.4 L79.8,603.8 L79.8,614.9 L85.3,611.2" stroke="#3a3a3a" stroke-width="1.2" fill="none" />
<path d="M75.9,617.3 L75.9,641.9" stroke="#3a3a3a" stroke-width="1.2" fill="none" />
<path d="M77.9,446.0 L77.9,600.0" stroke="#999" stroke-width="0.7" fill="none" />
<path d="M154.7,444.9 L154.7,537.0" stroke="#3a3a3a" stroke-width="1.2" fill="none" />
<path d="M154.7,566.0 L154.7,597.0" stroke="#3a3a3a" stroke-width="1.2" fill="none" />
<path d="M73.2,530.5 C72.2,530.4 69.0,529.5 67.5,529.8 C66.0,530.0 64.7,531.1 64.2,532.0 C63.7,532.9 63.9,534.5 64.6,535.0 C65.3,535.5 67.2,534.1 68.5,535.2 C69.8,536.4 71.4,540.2 72.6,541.9 C73.8,543.6 75.3,544.9 75.8,545.5" stroke="#3a3a3a" stroke-width="1.0" fill="none" />
<ellipse cx="90.1" cy="502.2" rx="2.9" ry="6.4" stroke="#3a3a3a" stroke-width="1.1" fill="none" transform="rotate(10 90.1 502.2)" />
<path d="M92.1,497.7 L92.4,498.3 L92.6,499.1 L92.7,500.2 L92.6,501.3 L92.5,502.5 L92.2,503.7 L91.9,504.8 L91.4,505.7 L91.0,506.5 L90.5,506.9" stroke="#3a3a3a" stroke-width="0.8" fill="none" />
<ellipse cx="90.1" cy="526.8" rx="2.9" ry="6.4" stroke="#3a3a3a" stroke-width="1.1" fill="none" transform="rotate(10 90.1 526.8)" />
<path d="M92.1,522.3 L92.4,522.9 L92.6,523.7 L92.7,524.8 L92.6,525.9 L92.5,527.1 L92.2,528.3 L91.9,529.4 L91.4,530.3 L91.0,531.1 L90.5,531.5" stroke="#3a3a3a" stroke-width="0.8" fill="none" />
<ellipse cx="92.5" cy="572.1" rx="6.0" ry="3.1" stroke="#3a3a3a" stroke-width="1.1" fill="none" transform="rotate(-40 92.5 572.1)" />
<path d="M89.2,575.1 L89.4,574.4 L89.7,573.7 L90.3,572.9 L91.0,572.0 L91.9,571.2 L92.8,570.5 L93.7,570.0 L94.7,569.6 L95.5,569.3 L96.1,569.3" stroke="#3a3a3a" stroke-width="0.8" fill="none" />
<ellipse cx="92.5" cy="585.6" rx="6.0" ry="3.1" stroke="#3a3a3a" stroke-width="1.1" fill="none" transform="rotate(-40 92.5 585.6)" />
<path d="M89.2,588.6 L89.4,587.9 L89.7,587.2 L90.3,586.4 L91.0,585.5 L91.9,584.7 L92.8,584.0 L93.7,583.5 L94.7,583.1 L95.5,582.8 L96.1,582.8" stroke="#3a3a3a" stroke-width="0.8" fill="none" />
<ellipse cx="92.5" cy="599.8" rx="6.0" ry="3.1" stroke="#3a3a3a" stroke-width="1.1" fill="none" transform="rotate(-40 92.5 599.8)" />
<path d="M89.2,602.8 L89.4,602.1 L89.7,601.4 L90.3,600.6 L91.0,599.7 L91.9,598.9 L92.8,598.2 L93.7,597.7 L94.7,597.3 L95.5,597.0 L96.1,597.0" stroke="#3a3a3a" stroke-width="0.8" fill="none" />
<path d="M76.1,641.5 L155.5,597.0" stroke="#3a3a3a" stroke-width="1.0" fill="none" />
<path d="M76.1,641.5 C79.4,642.5 88.5,646.0 96.2,647.6 C103.9,649.2 114.6,651.4 122.4,651.1 C130.2,650.8 136.6,648.7 143.3,645.8 C150.0,642.9 158.1,637.7 162.5,633.6 C166.9,629.5 168.6,625.2 169.5,621.4 C170.4,617.6 170.0,615.0 167.7,610.9 C165.4,606.8 157.5,599.3 155.5,597.0" stroke="#3a3a3a" stroke-width="1.1" fill="none" />
<path d="M77.0,644.0 C80.2,645.0 88.6,648.3 96.2,649.8 C103.8,651.3 114.6,653.5 122.4,653.2 C130.2,652.9 136.6,650.9 143.3,648.0 C150.0,645.1 159.3,637.8 162.5,635.8" stroke="#3a3a3a" stroke-width="1.1" fill="none" />
<ellipse cx="97.8" cy="462" rx="8.0" ry="12.0" stroke="#4de64d" stroke-width="1.1" fill="none" transform="rotate(25 97.8 462)" />
<ellipse cx="95.8" cy="458.6" rx="2.4" ry="5.6" stroke="#3a3a3a" stroke-width="1.1" fill="none" transform="rotate(40 95.8 458.6)" />
<path d="M144.7,449.6 L144.2,450.4 L143.2,451.2 L142.1,451.8 L140.7,452.3 L139.1,452.6 L137.5,452.7 L135.9,452.6 L134.3,452.3 L132.9,451.8 L131.8,451.2 L130.8,450.4 L130.3,449.6" stroke="#4de64d" stroke-width="1.1" fill="none" />
<ellipse cx="117.4" cy="588.3" rx="7.0" ry="11.2" stroke="#4de64d" stroke-width="1.1" fill="none" transform="rotate(25 117.4 588.3)" />
<ellipse cx="115.8" cy="587.1" rx="2.5" ry="5.6" stroke="#3a3a3a" stroke-width="1.1" fill="none" transform="rotate(15 115.8 587.1)" />
<path d="M124.2,491.4 L134.5,486.2 L143.2,491.8 L132.9,496.9 Z" stroke="#3a3a3a" stroke-width="1.0" fill="#fff" />
<path d="M143.2,491.8 L143.2,505.0" stroke="#3a3a3a" stroke-width="1.0" fill="none" />
<path d="M132.9,496.9 L132.9,512.0" stroke="#3a3a3a" stroke-width="1.0" fill="none" />
<path d="M113.5,496.5 L124.2,491.4 L132.1,498.5 L122.6,502.9 Z" stroke="#3a3a3a" stroke-width="1.0" fill="#fff" />
<path d="M122.6,502.9 L122.6,540.6" stroke="#3a3a3a" stroke-width="1.0" fill="none" />
<path d="M132.1,498.5 L132.1,512.0" stroke="#3a3a3a" stroke-width="1.0" fill="none" />
<path d="M102.4,502.5 L111.5,497.7 L121.8,504.1 L114.3,509.2 Z" stroke="#3a3a3a" stroke-width="1.0" fill="#fff" />
<path d="M102.4,502.5 L102.4,539.4 L114.3,545.3 L114.3,509.2" stroke="#3a3a3a" stroke-width="1.0" fill="none" />
<path d="M114.3,545.3 L122.6,540.6" stroke="#3a3a3a" stroke-width="1.0" fill="none" />
<path d="M121.8,504.1 L121.8,513.0" stroke="#3a3a3a" stroke-width="1.0" fill="none" />
<path d="M152.3,506.8 L142.3,501.1 A4.6,4.6 0 0 0 137.7,509.0 L147.7,514.8 Z" stroke="#3a3a3a" stroke-width="1.0" fill="#fff" />
<ellipse cx="150.0" cy="510.8" rx="3.9" ry="5.1" stroke="#3a3a3a" stroke-width="1.6" fill="#fff" transform="rotate(28 150.0 510.8)" />
<path d="M152.3,518.7 L142.3,513.0 A4.6,4.6 0 0 0 137.7,520.9 L147.7,526.7 Z" stroke="#3a3a3a" stroke-width="1.0" fill="#fff" />
<ellipse cx="150.0" cy="522.7" rx="3.9" ry="5.1" stroke="#3a3a3a" stroke-width="1.6" fill="#fff" transform="rotate(28 150.0 522.7)" />
<path d="M141.2,513.6 L131.2,507.9 A4.6,4.6 0 0 0 126.6,515.8 L136.6,521.6 Z" stroke="#3a3a3a" stroke-width="1.0" fill="#fff" />
<ellipse cx="138.9" cy="517.6" rx="3.9" ry="5.1" stroke="#3a3a3a" stroke-width="1.6" fill="#fff" transform="rotate(28 138.9 517.6)" />
<path d="M141.2,525.5 L131.2,519.8 A4.6,4.6 0 0 0 126.6,527.7 L136.6,533.5 Z" stroke="#3a3a3a" stroke-width="1.0" fill="#fff" />
<ellipse cx="138.9" cy="529.5" rx="3.9" ry="5.1" stroke="#3a3a3a" stroke-width="1.6" fill="#fff" transform="rotate(28 138.9 529.5)" />
<path d="M130.9,519.9 L120.9,514.2 A4.6,4.6 0 0 0 116.3,522.1 L126.3,527.9 Z" stroke="#3a3a3a" stroke-width="1.0" fill="#fff" />
<ellipse cx="128.6" cy="523.9" rx="3.9" ry="5.1" stroke="#3a3a3a" stroke-width="1.6" fill="#fff" transform="rotate(28 128.6 523.9)" />
<path d="M130.9,532.2 L120.9,526.5 A4.6,4.6 0 0 0 116.3,534.4 L126.3,540.2 Z" stroke="#3a3a3a" stroke-width="1.0" fill="#fff" />
<ellipse cx="128.6" cy="536.2" rx="3.9" ry="5.1" stroke="#3a3a3a" stroke-width="1.6" fill="#fff" transform="rotate(28 128.6 536.2)" />
<path d="M109.9,501.0 C109.8,498.9 108.2,492.2 109.1,488.2 C110.0,484.2 112.3,479.8 115.5,477.1 C118.7,474.5 124.5,472.6 128.2,472.3 C131.9,472.0 135.3,474.1 137.7,475.5 C140.1,476.9 141.6,479.7 142.4,480.5" stroke="#3a3a3a" stroke-width="1.0" fill="none" />
<path d="M113.2,500.0 C113.1,498.2 111.8,492.8 112.6,489.5 C113.4,486.2 115.3,482.7 118.0,480.5 C120.7,478.3 125.4,476.5 128.5,476.2 C131.6,475.9 134.4,477.4 136.5,478.5 C138.6,479.6 140.2,481.8 141.0,482.5" stroke="#3a3a3a" stroke-width="1.0" fill="none" />
<path d="M119.4,494.5 C119.4,492.8 118.6,486.7 119.4,484.0 C120.2,481.3 122.1,479.8 124.0,478.5 C125.9,477.2 129.8,476.8 131.0,476.5" stroke="#3a3a3a" stroke-width="1.0" fill="none" />
<path d="M122.6,493.7 C122.6,492.4 122.1,488.1 122.8,486.0 C123.5,483.9 125.1,482.1 126.8,481.0 C128.5,479.9 132.0,479.8 133.0,479.5" stroke="#3a3a3a" stroke-width="1.0" fill="none" />
<path d="M130.5,490.6 C130.5,489.5 130.0,485.8 130.6,484.2 C131.2,482.6 132.5,481.6 134.0,481.2 C135.5,480.8 138.6,481.9 139.5,482.0" stroke="#3a3a3a" stroke-width="1.0" fill="none" />
<path d="M133.8,488.8 C133.8,488.2 133.3,486.3 133.8,485.5 C134.3,484.7 135.9,484.0 137.0,484.0 C138.1,484.0 139.9,485.2 140.5,485.5" stroke="#3a3a3a" stroke-width="1.0" fill="none" />
<path d="M125.8,473.1 C127.5,472.5 132.5,469.4 136.1,469.5 C139.7,469.6 144.3,472.1 147.2,473.5 C150.1,474.9 151.5,476.6 153.6,477.9 C155.7,479.1 157.6,481.0 160.0,481.0 C162.4,481.0 165.5,479.1 168.0,478.0 C170.5,476.9 173.8,475.1 175.0,474.5" stroke="#3a3a3a" stroke-width="1.0" fill="none" />
<path d="M128.0,475.0 C129.5,474.6 133.9,472.2 137.0,472.5 C140.1,472.8 143.9,475.2 146.5,476.5 C149.1,477.8 150.2,479.2 152.5,480.5 C154.8,481.8 157.4,483.8 160.0,484.0 C162.6,484.2 165.5,482.8 168.0,482.0 C170.5,481.2 173.8,479.5 175.0,479.0" stroke="#3a3a3a" stroke-width="1.0" fill="none" />
<path d="M143.5,481.0 C144.9,481.8 149.2,484.4 152.0,485.5 C154.8,486.6 157.3,487.4 160.0,487.5 C162.7,487.6 165.5,486.6 168.0,486.0 C170.5,485.4 173.8,484.3 175.0,484.0" stroke="#3a3a3a" stroke-width="1.0" fill="none" />
<path d="M143.5,484.0 C144.9,484.8 149.2,487.4 152.0,488.5 C154.8,489.6 157.3,490.2 160.0,490.5 C162.7,490.8 165.5,490.2 168.0,490.0 C170.5,489.8 173.8,489.2 175.0,489.0" stroke="#3a3a3a" stroke-width="1.0" fill="none" />
<ellipse cx="142.8" cy="481.4" rx="2.1" ry="4.2" stroke="#3a3a3a" stroke-width="1.0" fill="#fff" transform="rotate(25 142.8 481.4)" />
<g transform="translate(192.4 470.8) rotate(29.9)">
<path d="M0,0 L6,-2.3 L37.9,-2.3 L37.9,2.3 L6,2.3 Z" fill="#fff" stroke="#3a3a3a" stroke-width="1.0"/>
<path d="M5.0,-2.3 L6.5,2.3" stroke="#3a3a3a" stroke-width="0.8"/>
<path d="M7.2,-2.3 L8.7,2.3" stroke="#3a3a3a" stroke-width="0.8"/>
<path d="M9.4,-2.3 L10.9,2.3" stroke="#3a3a3a" stroke-width="0.8"/>
<path d="M11.6,-2.3 L13.1,2.3" stroke="#3a3a3a" stroke-width="0.8"/>
<path d="M13.8,-2.3 L15.3,2.3" stroke="#3a3a3a" stroke-width="0.8"/>
<path d="M16.0,-2.3 L17.5,2.3" stroke="#3a3a3a" stroke-width="0.8"/>
<path d="M18.2,-2.3 L19.7,2.3" stroke="#3a3a3a" stroke-width="0.8"/>
<ellipse cx="40.9" cy="0" rx="2.6" ry="6.4" fill="#fff" stroke="#3a3a3a" stroke-width="1.1"/>
<path d="M39.4,-2.5 L42.4,2.5 M42.4,-2.5 L39.4,2.5" stroke="#3a3a3a" stroke-width="0.7"/>
</g>
<g transform="translate(150.5 486.5) rotate(32.5)">
<path d="M0,0 L6,-2.3 L39.2,-2.3 L39.2,2.3 L6,2.3 Z" fill="#fff" stroke="#3a3a3a" stroke-width="1.0"/>
<path d="M5.0,-2.3 L6.5,2.3" stroke="#3a3a3a" stroke-width="0.8"/>
<path d="M7.2,-2.3 L8.7,2.3" stroke="#3a3a3a" stroke-width="0.8"/>
<path d="M9.4,-2.3 L10.9,2.3" stroke="#3a3a3a" stroke-width="0.8"/>
<path d="M11.6,-2.3 L13.1,2.3" stroke="#3a3a3a" stroke-width="0.8"/>
<path d="M13.8,-2.3 L15.3,2.3" stroke="#3a3a3a" stroke-width="0.8"/>
<path d="M16.0,-2.3 L17.5,2.3" stroke="#3a3a3a" stroke-width="0.8"/>
<path d="M18.2,-2.3 L19.7,2.3" stroke="#3a3a3a" stroke-width="0.8"/>
<ellipse cx="42.2" cy="0" rx="2.6" ry="6.4" fill="#fff" stroke="#3a3a3a" stroke-width="1.1"/>
<path d="M40.7,-2.5 L43.7,2.5 M43.7,-2.5 L40.7,2.5" stroke="#3a3a3a" stroke-width="0.7"/>
</g>
<g transform="translate(165.1 614.4) rotate(31.3)">
<path d="M0,0 L6,-2.3 L37.8,-2.3 L37.8,2.3 L6,2.3 Z" fill="#fff" stroke="#3a3a3a" stroke-width="1.0"/>
<path d="M5.0,-2.3 L6.5,2.3" stroke="#3a3a3a" stroke-width="0.8"/>
<path d="M7.2,-2.3 L8.7,2.3" stroke="#3a3a3a" stroke-width="0.8"/>
<path d="M9.4,-2.3 L10.9,2.3" stroke="#3a3a3a" stroke-width="0.8"/>
<path d="M11.6,-2.3 L13.1,2.3" stroke="#3a3a3a" stroke-width="0.8"/>
<path d="M13.8,-2.3 L15.3,2.3" stroke="#3a3a3a" stroke-width="0.8"/>
<path d="M16.0,-2.3 L17.5,2.3" stroke="#3a3a3a" stroke-width="0.8"/>
<path d="M18.2,-2.3 L19.7,2.3" stroke="#3a3a3a" stroke-width="0.8"/>
<ellipse cx="40.8" cy="0" rx="2.6" ry="6.4" fill="#fff" stroke="#3a3a3a" stroke-width="1.1"/>
<path d="M39.3,-2.5 L42.3,2.5 M42.3,-2.5 L39.3,2.5" stroke="#3a3a3a" stroke-width="0.7"/>
</g>
<path d="M192.4,518.0 C191.0,518.8 186.5,522.1 184.0,523.0 C181.5,523.9 179.7,524.6 177.4,523.4 C175.2,522.2 171.8,518.6 170.5,516.0 C169.2,513.4 169.4,510.9 169.9,508.0 C170.4,505.1 171.9,501.6 173.7,498.6 C175.5,495.6 179.4,491.4 180.5,490.0" stroke="#3a3a3a" stroke-width="1.0" fill="none" />
<path d="M190.5,484.9 L178.7,488 L181.8,491.2 Z" fill="#3a3a3a" stroke="#3a3a3a" stroke-width="0.6"/>
<circle cx="195.5" cy="495.5" r="7.3" stroke="#3a3a3a" stroke-width="1.0" fill="none"/>
<text x="0" y="0" transform="translate(195.5 500.401) scale(0.62 1)" font-family="Liberation Serif" font-size="14.5" fill="#3a3a3a" text-anchor="middle" font-weight="normal">4</text>
<path d="M110.0,572.0 C110.5,570.2 111.0,564.1 113.0,561.0 C115.0,557.9 119.5,554.2 121.9,553.4 C124.3,552.6 126.2,553.9 127.5,556.0 C128.8,558.1 129.2,564.3 129.5,566.0" stroke="#3a3a3a" stroke-width="1.0" fill="none" />
<path d="M110.7,564.1 C113.7,564.7 122.3,568.0 128.7,567.5 C135.1,567.0 145.5,562.3 148.9,561.3" stroke="#3a3a3a" stroke-width="1.0" fill="none" />
<path d="M109.6,572.0 C112.8,572.8 121.4,577.3 128.7,576.5 C136.0,575.7 149.3,568.6 153.4,567.0" stroke="#3a3a3a" stroke-width="1.0" fill="none" />
<path d="M110.0,573.0 C110.8,574.0 113.0,577.3 115.0,579.0 C117.0,580.7 120.8,582.3 122.0,583.0" stroke="#3a3a3a" stroke-width="0.9" fill="none" />
<path d="M147.7,550.1 L136.5,559.1 L141,561.9 Z" fill="#3a3a3a" stroke="#3a3a3a" stroke-width="0.6"/>
<circle cx="133.7" cy="547.3" r="7.3" stroke="#3a3a3a" stroke-width="1.0" fill="none"/>
<text x="0" y="0" transform="translate(133.7 552.2009999999999) scale(0.62 1)" font-family="Liberation Serif" font-size="14.5" fill="#3a3a3a" text-anchor="middle" font-weight="normal">3</text>
<path d="M150.0,553.0 C150.5,553.8 152.2,555.2 153.0,558.0 C153.8,560.8 154.7,568.0 155.0,570.0" stroke="#3a3a3a" stroke-width="0.8" fill="none" />
<path d="M151.8,551.5 C152.2,552.6 154.0,554.9 154.5,558.0 C155.0,561.1 154.9,568.0 155.0,570.0" stroke="#3a3a3a" stroke-width="0.8" fill="none" />
<path d="M153.6,550.0 C154.0,551.3 155.8,554.7 156.0,558.0 C156.2,561.3 155.2,568.0 155.0,570.0" stroke="#3a3a3a" stroke-width="0.8" fill="none" />
<path d="M155.4,548.5 C155.8,550.1 157.6,554.4 157.5,558.0 C157.4,561.6 155.4,568.0 155.0,570.0" stroke="#3a3a3a" stroke-width="0.8" fill="none" />
<rect x="147" y="571.5" width="10" height="13" fill="#fff"/>
<path d="M146.6,573.5 C147.4,573.2 149.7,572.0 151.5,571.8 C153.3,571.6 156.3,572.4 157.3,572.5" stroke="#3a3a3a" stroke-width="1.0" fill="none" />
<path d="M146.6,584.3 C147.5,584.5 150.2,585.9 152.0,585.6 C153.8,585.3 156.4,583.1 157.3,582.6" stroke="#3a3a3a" stroke-width="1.0" fill="none" />
<path d="M157.3,572.5 L157.3,582.6" stroke="#3a3a3a" stroke-width="1.0" fill="none" />
<path d="M146.6,573.5 L149.5,575.2" stroke="#3a3a3a" stroke-width="1.0" fill="none" />
<path d="M146.6,584.3 L149.5,582.8" stroke="#3a3a3a" stroke-width="1.0" fill="none" />
<path d="M130.9,579.3 C130.4,581.1 129.5,586.5 128.0,590.0 C126.5,593.5 124.0,596.7 122.0,600.0 C120.0,603.3 117.2,607.4 116.3,609.6 C115.4,611.8 116.5,612.4 116.5,613.0" stroke="#3a3a3a" stroke-width="1.0" fill="none" />
<path d="M134.5,580.0 C134.0,581.8 133.0,587.5 131.5,591.0 C130.0,594.5 127.4,597.8 125.5,601.0 C123.6,604.2 120.9,608.2 120.0,610.0 C119.1,611.8 120.0,611.7 120.0,612.0" stroke="#3a3a3a" stroke-width="1.0" fill="none" />
<path d="M137.0,581.0 C136.7,582.8 135.0,588.5 135.0,592.0 C135.0,595.5 136.7,600.3 137.0,602.0" stroke="#3a3a3a" stroke-width="0.9" fill="none" />
<path d="M140.0,581.0 C139.8,582.8 138.4,588.8 138.5,592.0 C138.6,595.2 140.2,598.7 140.5,600.0" stroke="#3a3a3a" stroke-width="0.9" fill="none" />
<path d="M111.8,613.6 L139.8,597.9 L152.0,604.0 L124.1,619.7 Z" stroke="#3a3a3a" stroke-width="1.0" fill="#fff" />
<path d="M111.8,613.6 L111.8,622.5 L124.1,628.5 L124.1,619.7" stroke="#3a3a3a" stroke-width="1.0" fill="none" />
<path d="M124.1,628.5 L152.0,612.5 L152.0,604.0" stroke="#3a3a3a" stroke-width="1.0" fill="none" />
<path d="M112.8,625.8 L124.1,632.8 L148.5,616.2" stroke="#3a3a3a" stroke-width="1.8" fill="none" />
<path d="M138.9,598.7 L165.1,614.4" stroke="#3a3a3a" stroke-width="0.8" fill="none" />
<path d="M148.0,613.0 L151.5,616.5 L147.0,617.0" stroke="#3a3a3a" stroke-width="1.0" fill="none" />
<path d="M201,562.6 A45.5,45.5 0 1 1 196.5,571.6 L167.7,550.8 Z" stroke="#3a3a3a" stroke-width="1.1" fill="#fff" />
<rect x="217.4" y="567.6" width="12.0" height="36.9" fill="#fff" stroke="#3a3a3a" stroke-width="1.0"/>
<rect x="233.1" y="567.6" width="11.2" height="36.9" fill="#fff" stroke="#3a3a3a" stroke-width="1.0"/>
<rect x="248.8" y="567.6" width="10.5" height="36.9" fill="#fff" stroke="#3a3a3a" stroke-width="1.0"/>
<circle cx="224.1" cy="577.6" r="4.3" stroke="#3a3a3a" stroke-width="1.5" fill="none"/>
<path d="M221.5,580.2 L226.7,575.0" stroke="#3a3a3a" stroke-width="1.2" fill="none" />
<circle cx="224.1" cy="595.6" r="4.3" stroke="#3a3a3a" stroke-width="1.5" fill="none"/>
<path d="M221.5,598.2 L226.7,593.0" stroke="#3a3a3a" stroke-width="1.2" fill="none" />
<circle cx="239.1" cy="577.6" r="4.3" stroke="#3a3a3a" stroke-width="1.5" fill="none"/>
<path d="M236.5,580.2 L241.7,575.0" stroke="#3a3a3a" stroke-width="1.2" fill="none" />
<circle cx="239.1" cy="595.6" r="4.3" stroke="#3a3a3a" stroke-width="1.5" fill="none"/>
<path d="M236.5,598.2 L241.7,593.0" stroke="#3a3a3a" stroke-width="1.2" fill="none" />
<circle cx="254.1" cy="577.6" r="4.3" stroke="#3a3a3a" stroke-width="1.5" fill="none"/>
<path d="M251.5,580.2 L256.7,575.0" stroke="#3a3a3a" stroke-width="1.2" fill="none" />
<circle cx="254.1" cy="595.6" r="4.3" stroke="#3a3a3a" stroke-width="1.5" fill="none"/>
<path d="M251.5,598.2 L256.7,593.0" stroke="#3a3a3a" stroke-width="1.2" fill="none" />
<circle cx="230.9" cy="585.8" r="3.3" stroke="#3a3a3a" stroke-width="1.0" fill="#fff"/>
<path d="M228.9,585.8 H232.9 M230.9,583.8 V587.8 M229.5,584.4 L232.3,587.2 M232.3,584.4 L229.5,587.2" stroke="#3a3a3a" stroke-width="0.6" fill="none" />
<circle cx="245.8" cy="585.8" r="3.3" stroke="#3a3a3a" stroke-width="1.0" fill="#fff"/>
<path d="M243.8,585.8 H247.8 M245.8,583.8 V587.8 M244.4,584.4 L247.20000000000002,587.2 M247.20000000000002,584.4 L244.4,587.2" stroke="#3a3a3a" stroke-width="0.6" fill="none" />
<path d="M221.1,549.9 L221.1,567.6" stroke="#3a3a3a" stroke-width="1.0" fill="none" />
<path d="M224.6,549.9 L224.6,567.6" stroke="#3a3a3a" stroke-width="1.0" fill="none" />
<path d="M252.6,549.9 L252.6,567.6" stroke="#3a3a3a" stroke-width="1.0" fill="none" />
<path d="M255.6,549.9 L255.6,567.6" stroke="#3a3a3a" stroke-width="1.0" fill="none" />
<path d="M232.4,546.2 L232.4,558.2 L236.1,558.2 L236.1,567.6" stroke="#3a3a3a" stroke-width="1.0" fill="none" />
<path d="M245.1,546.2 L245.1,558.2 L241.3,558.2 L241.3,567.6" stroke="#3a3a3a" stroke-width="1.0" fill="none" />
<path d="M241.3,563.4 L266.5,583.0" stroke="#3a3a3a" stroke-width="1.0" fill="none" />
<path d="M266.5,589.5 L239.1,611.3" stroke="#3a3a3a" stroke-width="1.0" fill="none" />
<circle cx="272" cy="585.8" r="6.0" stroke="#3a3a3a" stroke-width="1.0" fill="#fff"/>
<path d="M272.0,580.5 L272.0,585.0" stroke="#3a3a3a" stroke-width="0.9" fill="none" />
<path d="M267.6,585.4 L276.4,585.4" stroke="#3a3a3a" stroke-width="0.9" fill="none" />
<path d="M268.8,587.6 L275.2,587.6" stroke="#3a3a3a" stroke-width="0.9" fill="none" />
<path d="M270.2,589.8 L273.8,589.8" stroke="#3a3a3a" stroke-width="0.9" fill="none" />
<path d="M221.9,626.2 V611.5 Q223.4,607.5 224.9,611.5 V626.2" stroke="#3a3a3a" stroke-width="1.0" fill="none" />
<path d="M237.6,626.2 V611.5 Q239.45,607.5 241.3,611.5 V626.2" stroke="#3a3a3a" stroke-width="1.0" fill="none" />
<path d="M253.3,626.2 V611.5 Q254.8,607.5 256.3,611.5 V626.2" stroke="#3a3a3a" stroke-width="1.0" fill="none" />
<path d="M238.2,618 L240.6,618 L240.4,627 L238.4,627 Z" fill="#222"/>
<text x="0" y="0" transform="translate(212.9 573.2) scale(0.72 1)" font-family="Liberation Serif" font-size="13.6" fill="#3a3a3a" text-anchor="middle" font-weight="normal">L</text>
<text x="0" y="0" transform="translate(212.9 606.8) scale(0.72 1)" font-family="Liberation Serif" font-size="13.6" fill="#3a3a3a" text-anchor="middle" font-weight="normal">L</text>
<text x="0" y="0" transform="translate(265.7 573.2) scale(0.68 1)" font-family="Liberation Serif" font-size="13.6" fill="#3a3a3a" text-anchor="middle" font-weight="normal">N</text>
<text x="0" y="0" transform="translate(265.7 606.8) scale(0.68 1)" font-family="Liberation Serif" font-size="13.6" fill="#3a3a3a" text-anchor="middle" font-weight="normal">N</text>
<circle cx="206.2" cy="585.8" r="6.6" stroke="#3a3a3a" stroke-width="1.0" fill="none"/>
<text x="0" y="0" transform="translate(206.2 590.7009999999999) scale(0.62 1)" font-family="Liberation Serif" font-size="14.5" fill="#3a3a3a" text-anchor="middle" font-weight="normal">5</text>
<path d="M233.5,470.0 L233.5,536.0" stroke="#3a3a3a" stroke-width="1.2" fill="none" />
<path d="M233.5,633.5 L233.5,690.3" stroke="#3a3a3a" stroke-width="1.2" fill="none" />
<path d="M233.5,690.3 C236.2,691.4 242.9,695.5 250.0,697.2 C257.1,699.0 266.8,701.2 276.0,700.8 C285.2,700.4 297.3,697.6 305.0,695.0 C312.7,692.4 317.5,689.0 322.0,685.0 C326.5,681.0 330.5,673.5 332.2,671.2" stroke="#3a3a3a" stroke-width="1.2" fill="none" />
<path d="M332.2,448.0 L332.2,581.0" stroke="#3a3a3a" stroke-width="1.2" fill="none" />
<path d="M332.2,604.5 L332.2,671.2" stroke="#3a3a3a" stroke-width="1.2" fill="none" />
<path d="M233.5,469.8 C233.9,469.6 235.1,468.4 236.2,468.4 C237.3,468.4 236.4,468.8 240.0,469.8 C243.6,470.8 252.0,473.4 258.0,474.5 C264.0,475.6 269.0,476.6 276.0,476.2 C283.0,475.8 293.0,474.1 300.0,472.0 C307.0,469.9 313.2,466.5 318.0,463.5 C322.8,460.5 326.2,456.8 328.5,454.0 C330.8,451.2 331.6,448.9 332.0,447.0 C332.4,445.1 331.6,443.6 331.2,442.5 C330.8,441.4 329.8,440.7 329.5,440.3" stroke="#3a3a3a" stroke-width="1.7" fill="none" />
<path d="M320,575.6 C314,573.5 309.5,579 309.8,586.5 C310,591.5 311.5,594 313.7,595.5" stroke="#3a3a3a" stroke-width="1.2" fill="none" />
<path d="M320.0,575.6 L376.5,602.2" stroke="#3a3a3a" stroke-width="1.2" fill="none" />
<path d="M313.7,595.5 L377.3,626.1" stroke="#3a3a3a" stroke-width="1.2" fill="none" />
<path d="M379.8,599.3 C378.9,600.6 374.8,604.8 374.2,607.4 C373.6,610.0 375.7,612.3 376.5,615.0 C377.3,617.7 379.9,620.1 379.2,623.6 C378.5,627.1 373.4,633.9 372.3,636.0" stroke="#3a3a3a" stroke-width="1.0" fill="none" />
<path d="M314.3,605.0 L326.6,610.3 L326.6,620.9 L314.3,615.8 Z" stroke="#4de64d" stroke-width="1.2" fill="none" />
<path d="M314.3,605.0 L316.8,603.0 L328.8,608.0 L326.6,610.3" stroke="#4de64d" stroke-width="1.0" fill="none" />
<path d="M236.8,638.6 L251.4,644.2 L251.4,657.9 L236.8,652.3 Z" stroke="#4de64d" stroke-width="1.2" fill="none" />
<path d="M236.8,638.6 L239.5,636.4 L253.6,642.0 L251.4,644.2" stroke="#4de64d" stroke-width="1.0" fill="none" />
<ellipse cx="312.5" cy="477.5" rx="5.2" ry="3.6" stroke="#4de64d" stroke-width="1.2" fill="none" transform="rotate(-10 312.5 477.5)" />
<ellipse cx="313" cy="477.5" rx="2.4" ry="1.6" stroke="#4de64d" stroke-width="1.0" fill="none" />
<path d="M317.0,474.0 L324.5,477.0" stroke="#4de64d" stroke-width="1.0" fill="none" />
<path d="M309.0,481.0 L314.0,484.0" stroke="#4de64d" stroke-width="1.0" fill="none" />
<path d="M237.3,452.2 L241.5,439.8 L262.4,433.8 L254.9,440.2 L264.3,445.4 L257.2,450.3 L246.7,445.8 Z" fill="#f0f" stroke="#f0f" stroke-width="0.6"/>
<path d="M262.5,448.5 L303.0,470.6" stroke="#666" stroke-width="0.8" fill="none" stroke-dasharray="1.2 1.8"/>
<circle cx="274" cy="435" r="7.1" stroke="#3a3a3a" stroke-width="1.0" fill="none"/>
<text x="0" y="0" transform="translate(274 439.901) scale(0.62 1)" font-family="Liberation Serif" font-size="14.5" fill="#3a3a3a" text-anchor="middle" font-weight="normal">6</text>
<defs><clipPath id="shadeclip"><path d="M744.6,507.0 L744.5,507.0 L744.3,509.4 L743.8,511.8 L743.0,514.2 L741.8,516.6 L740.3,519.0 L738.4,521.3 L736.2,523.6 L733.7,525.8 L730.9,528.0 L727.8,530.1 L724.4,532.2 L720.7,534.2 L716.8,536.1 L712.5,537.9 L708.0,539.7 L703.3,541.3 L698.4,542.9 L693.2,544.4 L687.8,545.7 L682.2,547.0 L676.5,548.2 L670.6,549.2 L664.6,550.1 L658.5,550.9 L652.2,551.6 L645.9,552.2 L639.5,552.6 L633.0,552.9 L626.5,553.1 L620.0,553.2 L613.5,553.1 L607.0,552.9 L600.5,552.6 L594.1,552.2 L587.8,551.6 L581.5,550.9 L575.4,550.1 L569.4,549.2 L563.5,548.2 L557.8,547.0 L552.2,545.7 L546.8,544.4 L541.6,542.9 L536.7,541.3 L532.0,539.7 L527.5,537.9 L523.2,536.1 L519.3,534.2 L515.6,532.2 L512.2,530.1 L509.1,528.0 L506.3,525.8 L503.8,523.6 L501.6,521.3 L499.7,519.0 L498.2,516.6 L497.0,514.2 L496.2,511.8 L495.7,509.4 L495.5,507.0 L495.6,507.0 L495.6,713.0 L495.5,713.0 L495.7,715.4 L496.2,717.7 L497.0,720.0 L498.2,722.4 L499.7,724.6 L501.6,726.9 L503.8,729.1 L506.3,731.3 L509.1,733.4 L512.2,735.5 L515.6,737.5 L519.3,739.5 L523.2,741.3 L527.5,743.1 L532.0,744.8 L536.7,746.4 L541.6,748.0 L546.8,749.4 L552.2,750.7 L557.8,752.0 L563.5,753.1 L569.4,754.1 L575.4,755.0 L581.5,755.8 L587.8,756.5 L594.1,757.0 L600.5,757.4 L607.0,757.8 L613.5,757.9 L620.0,758.0 L626.5,757.9 L633.0,757.8 L639.5,757.4 L645.9,757.0 L652.2,756.5 L658.5,755.8 L664.6,755.0 L670.6,754.1 L676.5,753.1 L682.2,752.0 L687.8,750.7 L693.2,749.4 L698.4,748.0 L703.3,746.4 L708.0,744.8 L712.5,743.1 L716.8,741.3 L720.7,739.5 L724.4,737.5 L727.8,735.5 L730.9,733.4 L733.7,731.3 L736.2,729.1 L738.4,726.9 L740.3,724.6 L741.8,722.4 L743.0,720.0 L743.8,717.7 L744.3,715.4 L744.5,713.0 L744.6,713.0 Z"/></clipPath></defs>
<ellipse cx="620.0" cy="507" rx="124.5" ry="46.2" stroke="#3a3a3a" stroke-width="1.3" fill="none" />
<ellipse cx="620.0" cy="510.5" rx="120.8" ry="45.2" stroke="#3a3a3a" stroke-width="1.2" fill="none" />
<path d="M495.6,510.0 L495.6,713.0" stroke="#3a3a3a" stroke-width="1.2" fill="none" />
<path d="M744.6,510.0 L744.6,713.0" stroke="#3a3a3a" stroke-width="1.2" fill="none" />
<path d="M744.5,713.0 L744.3,715.4 L743.8,717.7 L743.0,720.0 L741.8,722.4 L740.3,724.6 L738.4,726.9 L736.2,729.1 L733.7,731.3 L730.9,733.4 L727.8,735.5 L724.4,737.5 L720.7,739.5 L716.8,741.3 L712.5,743.1 L708.0,744.8 L703.3,746.4 L698.4,748.0 L693.2,749.4 L687.8,750.7 L682.2,752.0 L676.5,753.1 L670.6,754.1 L664.6,755.0 L658.5,755.8 L652.2,756.5 L645.9,757.0 L639.5,757.4 L633.0,757.8 L626.5,757.9 L620.0,758.0 L613.5,757.9 L607.0,757.8 L600.5,757.4 L594.1,757.0 L587.8,756.5 L581.5,755.8 L575.4,755.0 L569.4,754.1 L563.5,753.1 L557.8,752.0 L552.2,750.7 L546.8,749.4 L541.6,748.0 L536.7,746.4 L532.0,744.8 L527.5,743.1 L523.2,741.3 L519.3,739.5 L515.6,737.5 L512.2,735.5 L509.1,733.4 L506.3,731.3 L503.8,729.1 L501.6,726.9 L499.7,724.6 L498.2,722.4 L497.0,720.0 L496.2,717.7 L495.7,715.4 L495.5,713.0" stroke="#3a3a3a" stroke-width="1.2" fill="none" />
<g clip-path="url(#shadeclip)">
<path d="M496.9,546.2 L500.6,546.0 L504.3,546.0 L508.0,546.3 L511.6,546.9 L515.2,547.8 L518.8,548.9 L522.2,550.3 L525.6,552.0 L528.9,554.0 L532.1,556.2 L535.2,558.6 L538.1,561.3 L540.9,564.2 L543.6,567.3 L546.1,570.7 L548.5,574.2 L550.6,578.0 L552.6,581.9 L554.4,585.9 L556.0,590.1 L557.5,594.5 L558.7,598.9 L559.7,603.5 L560.5,608.1 L561.1,612.8 L561.5,617.6 L561.6,622.4 L561.6,627.3 L561.3,632.1 L560.8,636.9 L560.1,641.7 L559.2,646.5 L558.1,651.2 L556.8,655.8 L555.3,660.4 L553.5,664.8 L551.6,669.1 L549.6,673.3 L547.3,677.3 L544.9,681.2 L542.3,684.9 L539.5,688.4 L536.7,691.7 L533.6,694.8 L530.5,697.7 L527.3,700.3 L523.9,702.7 L520.5,704.8 L517.0,706.7 L513.4,708.4 L509.8,709.7 L506.1,710.8 L502.4,711.6 L498.7,712.2 L495.0,712.4 L491.3,712.4 L487.6,712.1 L484.0,711.5 L480.4,710.6 L476.8,709.5" stroke="#3a3a3a" stroke-width="1.1" fill="none" />
<path d="M497.0,548.8 L500.6,548.6 L504.1,548.6 L507.7,548.9 L511.2,549.5 L514.6,550.3 L518.0,551.4 L521.3,552.8 L524.6,554.4 L527.7,556.3 L530.8,558.4 L533.7,560.8 L536.6,563.4 L539.3,566.2 L541.8,569.2 L544.2,572.5 L546.5,575.9 L548.5,579.5 L550.4,583.3 L552.2,587.2 L553.7,591.3 L555.1,595.5 L556.2,599.8 L557.2,604.2 L558.0,608.7 L558.5,613.3 L558.9,617.9 L559.0,622.6 L559.0,627.2 L558.7,631.9 L558.2,636.6 L557.6,641.3 L556.7,645.9 L555.6,650.5 L554.3,654.9 L552.9,659.3 L551.2,663.6 L549.4,667.8 L547.4,671.9 L545.2,675.8 L542.9,679.5 L540.4,683.1 L537.8,686.5 L535.0,689.7 L532.1,692.7 L529.1,695.5 L526.0,698.0 L522.8,700.4 L519.5,702.5 L516.1,704.3 L512.7,705.9 L509.2,707.2 L505.7,708.3 L502.1,709.0 L498.6,709.6 L495.0,709.8 L491.5,709.8 L487.9,709.5 L484.4,708.9 L481.0,708.1 L477.6,707.0" stroke="#3a3a3a" stroke-width="1.1" fill="none" />
<path d="M499.5,573.2 L501.6,572.8 L503.6,572.6 L505.6,572.6 L507.6,572.7 L509.6,573.0 L511.6,573.5 L513.5,574.1 L515.4,574.9 L517.2,575.9 L519.0,577.0 L520.7,578.3 L522.3,579.7 L523.8,581.2 L525.2,582.9 L526.5,584.8 L527.8,586.7 L528.9,588.8 L529.9,590.9 L530.8,593.2 L531.5,595.5 L532.2,598.0 L532.7,600.4 L533.1,603.0 L533.3,605.6 L533.4,608.2 L533.4,610.8 L533.3,613.4 L533.0,616.1 L532.6,618.7 L532.0,621.3 L531.4,623.9 L530.6,626.4 L529.7,628.8 L528.6,631.2 L527.5,633.5 L526.2,635.8 L524.9,637.9 L523.4,639.9 L521.9,641.8 L520.3,643.6 L518.6,645.3 L516.8,646.8 L515.0,648.2 L513.1,649.4 L511.1,650.5 L509.2,651.4 L507.2,652.1 L505.1,652.7 L503.1,653.1 L501.1,653.4" stroke="#3a3a3a" stroke-width="1.1" fill="none" />
<path d="M499.2,570.8 L501.4,570.4 L503.6,570.2 L505.8,570.2 L507.9,570.3 L510.1,570.6 L512.2,571.1 L514.3,571.8 L516.3,572.7 L518.3,573.7 L520.2,574.9 L522.0,576.2 L523.7,577.8 L525.3,579.4 L526.9,581.2 L528.3,583.2 L529.7,585.2 L530.9,587.4 L531.9,589.7 L532.9,592.1 L533.7,594.6 L534.4,597.2 L535.0,599.8 L535.4,602.5 L535.7,605.2 L535.8,608.0 L535.8,610.8 L535.7,613.6 L535.4,616.3 L534.9,619.1 L534.4,621.9 L533.6,624.6 L532.8,627.3 L531.8,629.9 L530.7,632.4 L529.5,634.8 L528.2,637.2 L526.7,639.5 L525.2,641.6 L523.5,643.6 L521.8,645.5 L519.9,647.3 L518.0,648.9 L516.1,650.3 L514.0,651.6 L511.9,652.7 L509.8,653.7 L507.7,654.5 L505.5,655.1 L503.3,655.5 L501.1,655.8" stroke="#3a3a3a" stroke-width="1.1" fill="none" />
<circle cx="499.0" cy="552.8" r="1.8" stroke="#3a3a3a" stroke-width="0.9" fill="none"/>
<circle cx="506.3" cy="552.8" r="1.8" stroke="#3a3a3a" stroke-width="0.9" fill="none"/>
<circle cx="513.3" cy="553.9" r="1.8" stroke="#3a3a3a" stroke-width="0.9" fill="none"/>
<circle cx="520.2" cy="556.3" r="1.8" stroke="#3a3a3a" stroke-width="0.9" fill="none"/>
<circle cx="526.7" cy="559.8" r="1.8" stroke="#3a3a3a" stroke-width="0.9" fill="none"/>
<circle cx="532.7" cy="564.4" r="1.8" stroke="#3a3a3a" stroke-width="0.9" fill="none"/>
<circle cx="538.2" cy="570.0" r="1.8" stroke="#3a3a3a" stroke-width="0.9" fill="none"/>
<circle cx="542.9" cy="576.6" r="1.8" stroke="#3a3a3a" stroke-width="0.9" fill="none"/>
<circle cx="547.0" cy="584.0" r="1.8" stroke="#3a3a3a" stroke-width="0.9" fill="none"/>
<circle cx="550.2" cy="592.1" r="1.8" stroke="#3a3a3a" stroke-width="0.9" fill="none"/>
<circle cx="552.6" cy="600.7" r="1.8" stroke="#3a3a3a" stroke-width="0.9" fill="none"/>
<circle cx="554.1" cy="609.8" r="1.8" stroke="#3a3a3a" stroke-width="0.9" fill="none"/>
<circle cx="554.6" cy="619.1" r="1.8" stroke="#3a3a3a" stroke-width="0.9" fill="none"/>
<circle cx="554.2" cy="628.5" r="1.8" stroke="#3a3a3a" stroke-width="0.9" fill="none"/>
<circle cx="552.9" cy="637.8" r="1.8" stroke="#3a3a3a" stroke-width="0.9" fill="none"/>
<circle cx="550.7" cy="647.0" r="1.8" stroke="#3a3a3a" stroke-width="0.9" fill="none"/>
<circle cx="547.5" cy="655.7" r="1.8" stroke="#3a3a3a" stroke-width="0.9" fill="none"/>
<circle cx="543.6" cy="664.0" r="1.8" stroke="#3a3a3a" stroke-width="0.9" fill="none"/>
<circle cx="538.9" cy="671.6" r="1.8" stroke="#3a3a3a" stroke-width="0.9" fill="none"/>
<circle cx="533.6" cy="678.4" r="1.8" stroke="#3a3a3a" stroke-width="0.9" fill="none"/>
<circle cx="527.6" cy="684.3" r="1.8" stroke="#3a3a3a" stroke-width="0.9" fill="none"/>
<circle cx="521.2" cy="689.3" r="1.8" stroke="#3a3a3a" stroke-width="0.9" fill="none"/>
<circle cx="514.4" cy="693.1" r="1.8" stroke="#3a3a3a" stroke-width="0.9" fill="none"/>
<circle cx="507.4" cy="695.8" r="1.8" stroke="#3a3a3a" stroke-width="0.9" fill="none"/>
<circle cx="500.2" cy="697.3" r="1.8" stroke="#3a3a3a" stroke-width="0.9" fill="none"/>
<circle cx="492.9" cy="697.6" r="1.8" stroke="#3a3a3a" stroke-width="0.9" fill="none"/>
<circle cx="502.4" cy="565.2" r="1.8" stroke="#3a3a3a" stroke-width="0.9" fill="none"/>
<circle cx="510.0" cy="565.6" r="1.8" stroke="#3a3a3a" stroke-width="0.9" fill="none"/>
<circle cx="517.3" cy="568.0" r="1.8" stroke="#3a3a3a" stroke-width="0.9" fill="none"/>
<circle cx="524.0" cy="572.1" r="1.8" stroke="#3a3a3a" stroke-width="0.9" fill="none"/>
<circle cx="529.9" cy="577.8" r="1.8" stroke="#3a3a3a" stroke-width="0.9" fill="none"/>
<circle cx="534.7" cy="585.1" r="1.8" stroke="#3a3a3a" stroke-width="0.9" fill="none"/>
<circle cx="538.3" cy="593.4" r="1.8" stroke="#3a3a3a" stroke-width="0.9" fill="none"/>
<circle cx="540.6" cy="602.7" r="1.8" stroke="#3a3a3a" stroke-width="0.9" fill="none"/>
<circle cx="541.4" cy="612.5" r="1.8" stroke="#3a3a3a" stroke-width="0.9" fill="none"/>
<circle cx="540.7" cy="622.5" r="1.8" stroke="#3a3a3a" stroke-width="0.9" fill="none"/>
<circle cx="538.6" cy="632.3" r="1.8" stroke="#3a3a3a" stroke-width="0.9" fill="none"/>
<circle cx="535.1" cy="641.6" r="1.8" stroke="#3a3a3a" stroke-width="0.9" fill="none"/>
<circle cx="530.4" cy="650.0" r="1.8" stroke="#3a3a3a" stroke-width="0.9" fill="none"/>
<circle cx="524.6" cy="657.2" r="1.8" stroke="#3a3a3a" stroke-width="0.9" fill="none"/>
<circle cx="517.9" cy="663.0" r="1.8" stroke="#3a3a3a" stroke-width="0.9" fill="none"/>
<circle cx="510.7" cy="667.1" r="1.8" stroke="#3a3a3a" stroke-width="0.9" fill="none"/>
<circle cx="503.1" cy="669.4" r="1.8" stroke="#3a3a3a" stroke-width="0.9" fill="none"/>
<circle cx="495.4" cy="669.9" r="1.8" stroke="#3a3a3a" stroke-width="0.9" fill="none"/>
<ellipse cx="728.6" cy="584.2" rx="40.4" ry="28.0" stroke="#3a3a3a" stroke-width="1.1" fill="none" transform="rotate(11.0 728.6 584.2)" />
<ellipse cx="728.6" cy="584.2" rx="38.199999999999996" ry="25.8" stroke="#3a3a3a" stroke-width="1.1" fill="none" transform="rotate(11.0 728.6 584.2)" />
<ellipse cx="719.6" cy="581.6" rx="17.4" ry="12.7" stroke="#3a3a3a" stroke-width="1.1" fill="none" transform="rotate(4.0 719.6 581.6)" />
<ellipse cx="719.6" cy="581.6" rx="19.4" ry="14.7" stroke="#3a3a3a" stroke-width="1.1" fill="none" transform="rotate(4.0 719.6 581.6)" />
<circle cx="759.6" cy="588.8" r="1.4" stroke="#3a3a3a" stroke-width="0.9" fill="none"/>
<circle cx="758.6" cy="592.6" r="1.4" stroke="#3a3a3a" stroke-width="0.9" fill="none"/>
<circle cx="756.6" cy="596.1" r="1.4" stroke="#3a3a3a" stroke-width="0.9" fill="none"/>
<circle cx="753.8" cy="599.3" r="1.4" stroke="#3a3a3a" stroke-width="0.9" fill="none"/>
<circle cx="750.3" cy="602.0" r="1.4" stroke="#3a3a3a" stroke-width="0.9" fill="none"/>
<circle cx="746.1" cy="604.3" r="1.4" stroke="#3a3a3a" stroke-width="0.9" fill="none"/>
<circle cx="741.4" cy="606.0" r="1.4" stroke="#3a3a3a" stroke-width="0.9" fill="none"/>
<circle cx="736.2" cy="607.0" r="1.4" stroke="#3a3a3a" stroke-width="0.9" fill="none"/>
<circle cx="730.8" cy="607.5" r="1.4" stroke="#3a3a3a" stroke-width="0.9" fill="none"/>
<circle cx="725.3" cy="607.3" r="1.4" stroke="#3a3a3a" stroke-width="0.9" fill="none"/>
<circle cx="719.7" cy="606.4" r="1.4" stroke="#3a3a3a" stroke-width="0.9" fill="none"/>
<circle cx="714.4" cy="604.9" r="1.4" stroke="#3a3a3a" stroke-width="0.9" fill="none"/>
<circle cx="709.4" cy="602.9" r="1.4" stroke="#3a3a3a" stroke-width="0.9" fill="none"/>
<circle cx="704.8" cy="600.3" r="1.4" stroke="#3a3a3a" stroke-width="0.9" fill="none"/>
<circle cx="700.8" cy="597.2" r="1.4" stroke="#3a3a3a" stroke-width="0.9" fill="none"/>
<circle cx="697.4" cy="593.8" r="1.4" stroke="#3a3a3a" stroke-width="0.9" fill="none"/>
<circle cx="694.9" cy="590.1" r="1.4" stroke="#3a3a3a" stroke-width="0.9" fill="none"/>
<circle cx="693.2" cy="586.2" r="1.4" stroke="#3a3a3a" stroke-width="0.9" fill="none"/>
<circle cx="692.4" cy="582.3" r="1.4" stroke="#3a3a3a" stroke-width="0.9" fill="none"/>
<circle cx="692.5" cy="578.3" r="1.4" stroke="#3a3a3a" stroke-width="0.9" fill="none"/>
<circle cx="693.5" cy="574.6" r="1.4" stroke="#3a3a3a" stroke-width="0.9" fill="none"/>
<circle cx="695.4" cy="571.0" r="1.4" stroke="#3a3a3a" stroke-width="0.9" fill="none"/>
<circle cx="698.2" cy="567.8" r="1.4" stroke="#3a3a3a" stroke-width="0.9" fill="none"/>
<circle cx="701.7" cy="565.0" r="1.4" stroke="#3a3a3a" stroke-width="0.9" fill="none"/>
<circle cx="705.8" cy="562.8" r="1.4" stroke="#3a3a3a" stroke-width="0.9" fill="none"/>
<circle cx="710.5" cy="561.0" r="1.4" stroke="#3a3a3a" stroke-width="0.9" fill="none"/>
<circle cx="715.6" cy="559.9" r="1.4" stroke="#3a3a3a" stroke-width="0.9" fill="none"/>
<circle cx="721.0" cy="559.5" r="1.4" stroke="#3a3a3a" stroke-width="0.9" fill="none"/>
<circle cx="726.6" cy="559.6" r="1.4" stroke="#3a3a3a" stroke-width="0.9" fill="none"/>
<circle cx="732.1" cy="560.5" r="1.4" stroke="#3a3a3a" stroke-width="0.9" fill="none"/>
<circle cx="737.5" cy="561.9" r="1.4" stroke="#3a3a3a" stroke-width="0.9" fill="none"/>
<circle cx="742.5" cy="564.0" r="1.4" stroke="#3a3a3a" stroke-width="0.9" fill="none"/>
<circle cx="747.2" cy="566.5" r="1.4" stroke="#3a3a3a" stroke-width="0.9" fill="none"/>
<circle cx="751.2" cy="569.6" r="1.4" stroke="#3a3a3a" stroke-width="0.9" fill="none"/>
<circle cx="754.6" cy="573.0" r="1.4" stroke="#3a3a3a" stroke-width="0.9" fill="none"/>
<circle cx="757.1" cy="576.6" r="1.4" stroke="#3a3a3a" stroke-width="0.9" fill="none"/>
<circle cx="758.9" cy="580.5" r="1.4" stroke="#3a3a3a" stroke-width="0.9" fill="none"/>
<circle cx="759.7" cy="584.5" r="1.4" stroke="#3a3a3a" stroke-width="0.9" fill="none"/>
<circle cx="759.7" cy="588.4" r="1.4" stroke="#3a3a3a" stroke-width="0.9" fill="none"/>
<circle cx="745.8" cy="584.8" r="1.4" stroke="#3a3a3a" stroke-width="0.9" fill="none"/>
<circle cx="744.8" cy="588.5" r="1.4" stroke="#3a3a3a" stroke-width="0.9" fill="none"/>
<circle cx="742.7" cy="591.9" r="1.4" stroke="#3a3a3a" stroke-width="0.9" fill="none"/>
<circle cx="739.6" cy="594.8" r="1.4" stroke="#3a3a3a" stroke-width="0.9" fill="none"/>
<circle cx="735.6" cy="597.1" r="1.4" stroke="#3a3a3a" stroke-width="0.9" fill="none"/>
<circle cx="730.9" cy="598.6" r="1.4" stroke="#3a3a3a" stroke-width="0.9" fill="none"/>
<circle cx="725.8" cy="599.3" r="1.4" stroke="#3a3a3a" stroke-width="0.9" fill="none"/>
<circle cx="720.5" cy="599.2" r="1.4" stroke="#3a3a3a" stroke-width="0.9" fill="none"/>
<circle cx="715.2" cy="598.3" r="1.4" stroke="#3a3a3a" stroke-width="0.9" fill="none"/>
<circle cx="710.4" cy="596.5" r="1.4" stroke="#3a3a3a" stroke-width="0.9" fill="none"/>
<circle cx="706.1" cy="594.1" r="1.4" stroke="#3a3a3a" stroke-width="0.9" fill="none"/>
<circle cx="702.6" cy="591.0" r="1.4" stroke="#3a3a3a" stroke-width="0.9" fill="none"/>
<circle cx="700.1" cy="587.5" r="1.4" stroke="#3a3a3a" stroke-width="0.9" fill="none"/>
<circle cx="698.6" cy="583.8" r="1.4" stroke="#3a3a3a" stroke-width="0.9" fill="none"/>
<circle cx="698.4" cy="580.0" r="1.4" stroke="#3a3a3a" stroke-width="0.9" fill="none"/>
<circle cx="699.3" cy="576.3" r="1.4" stroke="#3a3a3a" stroke-width="0.9" fill="none"/>
<circle cx="701.4" cy="572.9" r="1.4" stroke="#3a3a3a" stroke-width="0.9" fill="none"/>
<circle cx="704.5" cy="570.0" r="1.4" stroke="#3a3a3a" stroke-width="0.9" fill="none"/>
<circle cx="708.5" cy="567.7" r="1.4" stroke="#3a3a3a" stroke-width="0.9" fill="none"/>
<circle cx="713.2" cy="566.1" r="1.4" stroke="#3a3a3a" stroke-width="0.9" fill="none"/>
<circle cx="718.3" cy="565.3" r="1.4" stroke="#3a3a3a" stroke-width="0.9" fill="none"/>
<circle cx="723.6" cy="565.4" r="1.4" stroke="#3a3a3a" stroke-width="0.9" fill="none"/>
<circle cx="728.8" cy="566.3" r="1.4" stroke="#3a3a3a" stroke-width="0.9" fill="none"/>
<circle cx="733.7" cy="568.0" r="1.4" stroke="#3a3a3a" stroke-width="0.9" fill="none"/>
<circle cx="738.0" cy="570.5" r="1.4" stroke="#3a3a3a" stroke-width="0.9" fill="none"/>
<circle cx="741.5" cy="573.5" r="1.4" stroke="#3a3a3a" stroke-width="0.9" fill="none"/>
<circle cx="744.1" cy="577.0" r="1.4" stroke="#3a3a3a" stroke-width="0.9" fill="none"/>
<circle cx="745.6" cy="580.7" r="1.4" stroke="#3a3a3a" stroke-width="0.9" fill="none"/>
<circle cx="745.9" cy="584.5" r="1.4" stroke="#3a3a3a" stroke-width="0.9" fill="none"/>
<ellipse cx="718.9" cy="683.2" rx="41.8" ry="61.6" stroke="#3a3a3a" stroke-width="1.2" fill="none" transform="rotate(-39.0 718.9 683.2)" />
<ellipse cx="718.9" cy="683.2" rx="39.8" ry="59.6" stroke="#3a3a3a" stroke-width="1.2" fill="none" transform="rotate(-39.0 718.9 683.2)" />
<ellipse cx="726.5" cy="691.5" rx="21.9" ry="31.0" stroke="#3a3a3a" stroke-width="2.0" fill="none" transform="rotate(-29.5 726.5 691.5)" />
<circle cx="750.8" cy="660.8" r="1.2" stroke="#3a3a3a" stroke-width="0.8" fill="none"/>
<circle cx="754.1" cy="665.3" r="1.2" stroke="#3a3a3a" stroke-width="0.8" fill="none"/>
<circle cx="757.0" cy="670.0" r="1.2" stroke="#3a3a3a" stroke-width="0.8" fill="none"/>
<circle cx="759.6" cy="674.9" r="1.2" stroke="#3a3a3a" stroke-width="0.8" fill="none"/>
<circle cx="761.7" cy="679.8" r="1.2" stroke="#3a3a3a" stroke-width="0.8" fill="none"/>
<circle cx="763.5" cy="684.8" r="1.2" stroke="#3a3a3a" stroke-width="0.8" fill="none"/>
<circle cx="764.9" cy="689.8" r="1.2" stroke="#3a3a3a" stroke-width="0.8" fill="none"/>
<circle cx="765.9" cy="694.7" r="1.2" stroke="#3a3a3a" stroke-width="0.8" fill="none"/>
<circle cx="766.4" cy="699.6" r="1.2" stroke="#3a3a3a" stroke-width="0.8" fill="none"/>
<circle cx="766.4" cy="704.2" r="1.2" stroke="#3a3a3a" stroke-width="0.8" fill="none"/>
<circle cx="766.1" cy="708.7" r="1.2" stroke="#3a3a3a" stroke-width="0.8" fill="none"/>
<circle cx="765.2" cy="713.0" r="1.2" stroke="#3a3a3a" stroke-width="0.8" fill="none"/>
<circle cx="764.0" cy="717.0" r="1.2" stroke="#3a3a3a" stroke-width="0.8" fill="none"/>
<circle cx="762.3" cy="720.7" r="1.2" stroke="#3a3a3a" stroke-width="0.8" fill="none"/>
<circle cx="760.2" cy="724.0" r="1.2" stroke="#3a3a3a" stroke-width="0.8" fill="none"/>
<circle cx="757.8" cy="727.0" r="1.2" stroke="#3a3a3a" stroke-width="0.8" fill="none"/>
<circle cx="754.9" cy="729.5" r="1.2" stroke="#3a3a3a" stroke-width="0.8" fill="none"/>
<circle cx="751.8" cy="731.6" r="1.2" stroke="#3a3a3a" stroke-width="0.8" fill="none"/>
<circle cx="748.3" cy="733.3" r="1.2" stroke="#3a3a3a" stroke-width="0.8" fill="none"/>
<circle cx="744.6" cy="734.5" r="1.2" stroke="#3a3a3a" stroke-width="0.8" fill="none"/>
<circle cx="740.6" cy="735.2" r="1.2" stroke="#3a3a3a" stroke-width="0.8" fill="none"/>
<circle cx="736.4" cy="735.5" r="1.2" stroke="#3a3a3a" stroke-width="0.8" fill="none"/>
<circle cx="732.1" cy="735.2" r="1.2" stroke="#3a3a3a" stroke-width="0.8" fill="none"/>
<circle cx="727.7" cy="734.5" r="1.2" stroke="#3a3a3a" stroke-width="0.8" fill="none"/>
<circle cx="723.2" cy="733.2" r="1.2" stroke="#3a3a3a" stroke-width="0.8" fill="none"/>
<circle cx="718.6" cy="731.5" r="1.2" stroke="#3a3a3a" stroke-width="0.8" fill="none"/>
<circle cx="714.1" cy="729.4" r="1.2" stroke="#3a3a3a" stroke-width="0.8" fill="none"/>
<circle cx="709.6" cy="726.8" r="1.2" stroke="#3a3a3a" stroke-width="0.8" fill="none"/>
<circle cx="705.3" cy="723.9" r="1.2" stroke="#3a3a3a" stroke-width="0.8" fill="none"/>
<circle cx="701.0" cy="720.5" r="1.2" stroke="#3a3a3a" stroke-width="0.8" fill="none"/>
<circle cx="697.0" cy="716.8" r="1.2" stroke="#3a3a3a" stroke-width="0.8" fill="none"/>
<circle cx="693.2" cy="712.8" r="1.2" stroke="#3a3a3a" stroke-width="0.8" fill="none"/>
<circle cx="689.6" cy="708.5" r="1.2" stroke="#3a3a3a" stroke-width="0.8" fill="none"/>
<circle cx="686.3" cy="704.0" r="1.2" stroke="#3a3a3a" stroke-width="0.8" fill="none"/>
<circle cx="683.3" cy="699.3" r="1.2" stroke="#3a3a3a" stroke-width="0.8" fill="none"/>
<circle cx="680.7" cy="694.5" r="1.2" stroke="#3a3a3a" stroke-width="0.8" fill="none"/>
<circle cx="678.5" cy="689.5" r="1.2" stroke="#3a3a3a" stroke-width="0.8" fill="none"/>
<circle cx="676.7" cy="684.5" r="1.2" stroke="#3a3a3a" stroke-width="0.8" fill="none"/>
<circle cx="675.3" cy="679.5" r="1.2" stroke="#3a3a3a" stroke-width="0.8" fill="none"/>
<circle cx="674.3" cy="674.6" r="1.2" stroke="#3a3a3a" stroke-width="0.8" fill="none"/>
<circle cx="673.7" cy="669.8" r="1.2" stroke="#3a3a3a" stroke-width="0.8" fill="none"/>
<circle cx="673.6" cy="665.1" r="1.2" stroke="#3a3a3a" stroke-width="0.8" fill="none"/>
<circle cx="674.0" cy="660.5" r="1.2" stroke="#3a3a3a" stroke-width="0.8" fill="none"/>
<circle cx="674.8" cy="656.3" r="1.2" stroke="#3a3a3a" stroke-width="0.8" fill="none"/>
<circle cx="676.0" cy="652.2" r="1.2" stroke="#3a3a3a" stroke-width="0.8" fill="none"/>
<circle cx="677.6" cy="648.5" r="1.2" stroke="#3a3a3a" stroke-width="0.8" fill="none"/>
<circle cx="679.7" cy="645.2" r="1.2" stroke="#3a3a3a" stroke-width="0.8" fill="none"/>
<circle cx="682.1" cy="642.2" r="1.2" stroke="#3a3a3a" stroke-width="0.8" fill="none"/>
<circle cx="684.9" cy="639.6" r="1.2" stroke="#3a3a3a" stroke-width="0.8" fill="none"/>
<circle cx="688.0" cy="637.4" r="1.2" stroke="#3a3a3a" stroke-width="0.8" fill="none"/>
<circle cx="691.4" cy="635.7" r="1.2" stroke="#3a3a3a" stroke-width="0.8" fill="none"/>
<circle cx="695.2" cy="634.5" r="1.2" stroke="#3a3a3a" stroke-width="0.8" fill="none"/>
<circle cx="699.1" cy="633.7" r="1.2" stroke="#3a3a3a" stroke-width="0.8" fill="none"/>
<circle cx="703.3" cy="633.4" r="1.2" stroke="#3a3a3a" stroke-width="0.8" fill="none"/>
<circle cx="707.6" cy="633.7" r="1.2" stroke="#3a3a3a" stroke-width="0.8" fill="none"/>
<circle cx="712.0" cy="634.4" r="1.2" stroke="#3a3a3a" stroke-width="0.8" fill="none"/>
<circle cx="716.5" cy="635.5" r="1.2" stroke="#3a3a3a" stroke-width="0.8" fill="none"/>
<circle cx="721.0" cy="637.2" r="1.2" stroke="#3a3a3a" stroke-width="0.8" fill="none"/>
<circle cx="725.6" cy="639.3" r="1.2" stroke="#3a3a3a" stroke-width="0.8" fill="none"/>
<circle cx="730.1" cy="641.8" r="1.2" stroke="#3a3a3a" stroke-width="0.8" fill="none"/>
<circle cx="734.4" cy="644.8" r="1.2" stroke="#3a3a3a" stroke-width="0.8" fill="none"/>
<circle cx="738.7" cy="648.1" r="1.2" stroke="#3a3a3a" stroke-width="0.8" fill="none"/>
<circle cx="742.7" cy="651.7" r="1.2" stroke="#3a3a3a" stroke-width="0.8" fill="none"/>
<circle cx="746.6" cy="655.7" r="1.2" stroke="#3a3a3a" stroke-width="0.8" fill="none"/>
<circle cx="750.2" cy="660.0" r="1.2" stroke="#3a3a3a" stroke-width="0.8" fill="none"/>
<circle cx="746.6" cy="677.7" r="1.2" stroke="#3a3a3a" stroke-width="0.8" fill="none"/>
<circle cx="749.2" cy="682.6" r="1.2" stroke="#3a3a3a" stroke-width="0.8" fill="none"/>
<circle cx="751.2" cy="687.6" r="1.2" stroke="#3a3a3a" stroke-width="0.8" fill="none"/>
<circle cx="752.5" cy="692.8" r="1.2" stroke="#3a3a3a" stroke-width="0.8" fill="none"/>
<circle cx="753.2" cy="697.9" r="1.2" stroke="#3a3a3a" stroke-width="0.8" fill="none"/>
<circle cx="753.2" cy="702.7" r="1.2" stroke="#3a3a3a" stroke-width="0.8" fill="none"/>
<circle cx="752.5" cy="707.3" r="1.2" stroke="#3a3a3a" stroke-width="0.8" fill="none"/>
<circle cx="751.2" cy="711.5" r="1.2" stroke="#3a3a3a" stroke-width="0.8" fill="none"/>
<circle cx="749.2" cy="715.2" r="1.2" stroke="#3a3a3a" stroke-width="0.8" fill="none"/>
<circle cx="746.7" cy="718.2" r="1.2" stroke="#3a3a3a" stroke-width="0.8" fill="none"/>
<circle cx="743.6" cy="720.6" r="1.2" stroke="#3a3a3a" stroke-width="0.8" fill="none"/>
<circle cx="740.1" cy="722.2" r="1.2" stroke="#3a3a3a" stroke-width="0.8" fill="none"/>
<circle cx="736.2" cy="723.0" r="1.2" stroke="#3a3a3a" stroke-width="0.8" fill="none"/>
<circle cx="732.1" cy="723.1" r="1.2" stroke="#3a3a3a" stroke-width="0.8" fill="none"/>
<circle cx="727.8" cy="722.3" r="1.2" stroke="#3a3a3a" stroke-width="0.8" fill="none"/>
<circle cx="723.4" cy="720.8" r="1.2" stroke="#3a3a3a" stroke-width="0.8" fill="none"/>
<circle cx="719.1" cy="718.5" r="1.2" stroke="#3a3a3a" stroke-width="0.8" fill="none"/>
<circle cx="714.9" cy="715.5" r="1.2" stroke="#3a3a3a" stroke-width="0.8" fill="none"/>
<circle cx="711.1" cy="711.9" r="1.2" stroke="#3a3a3a" stroke-width="0.8" fill="none"/>
<circle cx="707.5" cy="707.8" r="1.2" stroke="#3a3a3a" stroke-width="0.8" fill="none"/>
<circle cx="704.4" cy="703.3" r="1.2" stroke="#3a3a3a" stroke-width="0.8" fill="none"/>
<circle cx="701.8" cy="698.4" r="1.2" stroke="#3a3a3a" stroke-width="0.8" fill="none"/>
<circle cx="699.8" cy="693.3" r="1.2" stroke="#3a3a3a" stroke-width="0.8" fill="none"/>
<circle cx="698.4" cy="688.2" r="1.2" stroke="#3a3a3a" stroke-width="0.8" fill="none"/>
<circle cx="697.7" cy="683.1" r="1.2" stroke="#3a3a3a" stroke-width="0.8" fill="none"/>
<circle cx="697.6" cy="678.2" r="1.2" stroke="#3a3a3a" stroke-width="0.8" fill="none"/>
<circle cx="698.3" cy="673.6" r="1.2" stroke="#3a3a3a" stroke-width="0.8" fill="none"/>
<circle cx="699.6" cy="669.4" r="1.2" stroke="#3a3a3a" stroke-width="0.8" fill="none"/>
<circle cx="701.5" cy="665.7" r="1.2" stroke="#3a3a3a" stroke-width="0.8" fill="none"/>
<circle cx="704.0" cy="662.6" r="1.2" stroke="#3a3a3a" stroke-width="0.8" fill="none"/>
<circle cx="707.1" cy="660.2" r="1.2" stroke="#3a3a3a" stroke-width="0.8" fill="none"/>
<circle cx="710.6" cy="658.5" r="1.2" stroke="#3a3a3a" stroke-width="0.8" fill="none"/>
<circle cx="714.4" cy="657.7" r="1.2" stroke="#3a3a3a" stroke-width="0.8" fill="none"/>
<circle cx="718.6" cy="657.6" r="1.2" stroke="#3a3a3a" stroke-width="0.8" fill="none"/>
<circle cx="722.9" cy="658.3" r="1.2" stroke="#3a3a3a" stroke-width="0.8" fill="none"/>
<circle cx="727.2" cy="659.8" r="1.2" stroke="#3a3a3a" stroke-width="0.8" fill="none"/>
<circle cx="731.5" cy="662.0" r="1.2" stroke="#3a3a3a" stroke-width="0.8" fill="none"/>
<circle cx="735.7" cy="665.0" r="1.2" stroke="#3a3a3a" stroke-width="0.8" fill="none"/>
<circle cx="739.6" cy="668.5" r="1.2" stroke="#3a3a3a" stroke-width="0.8" fill="none"/>
<circle cx="743.2" cy="672.6" r="1.2" stroke="#3a3a3a" stroke-width="0.8" fill="none"/>
<circle cx="746.3" cy="677.2" r="1.2" stroke="#3a3a3a" stroke-width="0.8" fill="none"/>
<path d="M642.5,691.7 L641.3,695.3 L639.9,698.9 L638.3,702.4 L636.6,705.9 L634.6,709.3 L632.5,712.7 L630.1,716.0 L627.6,719.1 L625.0,722.2 L622.2,725.1 L619.3,727.9 L616.3,730.5 L613.2,733.0 L610.0,735.3 L606.7,737.4 L603.4,739.3 L600.0,741.0 L596.5,742.5 L593.1,743.7 L589.7,744.8 L586.3,745.6 L582.9,746.2 L579.5,746.5 L576.2,746.6 L573.0,746.5 L569.9,746.1 L566.8,745.5 L563.9,744.7 L561.1,743.7 L558.5,742.4 L556.0,740.9 L553.6,739.2 L551.5,737.3 L549.5,735.2 L547.7,732.9 L546.1,730.4 L544.7,727.8 L543.5,725.0 L542.5,722.1 L541.7,719.0 L541.2,715.8 L540.9,712.5 L540.8,709.2 L541.0,705.7 L541.3,702.2 L541.9,698.7 L542.8,695.1 L543.8,691.6 L545.1,688.0 L546.5,684.4 L548.2,680.9 L550.0,677.4 L552.1,674.0 L554.3,670.7 L556.7,667.5 L559.3,664.3 L561.9,661.3 L564.8,658.5 L567.7,655.8 L570.8,653.2" stroke="#3a3a3a" stroke-width="1.1" fill="none" />
<path d="M640.1,691.4 L639.0,694.8 L637.6,698.2 L636.1,701.6 L634.4,704.9 L632.5,708.2 L630.4,711.5 L628.2,714.6 L625.8,717.6 L623.2,720.6 L620.6,723.4 L617.8,726.1 L614.9,728.6 L611.9,731.0 L608.8,733.2 L605.7,735.2 L602.5,737.0 L599.3,738.7 L596.0,740.1 L592.7,741.4 L589.4,742.4 L586.2,743.2 L582.9,743.8 L579.7,744.1 L576.6,744.2 L573.5,744.2 L570.6,743.8 L567.7,743.3 L564.9,742.5 L562.3,741.5 L559.7,740.3 L557.4,738.9 L555.2,737.3 L553.1,735.5 L551.2,733.5 L549.5,731.4 L548.0,729.0 L546.7,726.5 L545.6,723.9 L544.7,721.1 L544.0,718.2 L543.5,715.1 L543.2,712.0 L543.2,708.8 L543.4,705.5 L543.7,702.2 L544.3,698.8 L545.2,695.4 L546.2,692.0 L547.4,688.6 L548.8,685.1 L550.4,681.8 L552.2,678.5 L554.2,675.2 L556.3,672.0 L558.6,668.9 L561.1,665.9 L563.7,663.0 L566.4,660.3 L569.2,657.6 L572.2,655.2" stroke="#3a3a3a" stroke-width="1.1" fill="none" />
<path d="M611.5,693.6 L611.3,696.0 L610.9,698.3 L610.4,700.8 L609.6,703.2 L608.7,705.6 L607.6,707.9 L606.4,710.2 L605.0,712.4 L603.4,714.5 L601.8,716.6 L600.0,718.5 L598.1,720.2 L596.1,721.9 L594.1,723.3 L592.0,724.6 L589.8,725.7 L587.6,726.7 L585.4,727.4 L583.2,727.9 L581.0,728.3 L578.9,728.4 L576.8,728.3 L574.7,728.1 L572.8,727.6 L570.9,726.9 L569.1,726.0 L567.5,724.9 L566.0,723.7 L564.7,722.3 L563.5,720.7 L562.4,719.0 L561.6,717.1 L560.9,715.1 L560.3,713.0 L560.0,710.8 L559.9,708.5 L559.9,706.2 L560.2,703.8 L560.6,701.4 L561.2,699.0 L562.0,696.6 L563.0,694.2 L564.1,691.9 L565.4,689.6 L566.8,687.4 L568.4,685.3 L570.1,683.3 L571.9,681.5 L573.8,679.7 L575.8,678.1" stroke="#3a3a3a" stroke-width="1.1" fill="none" />
<path d="M613.7,693.4 L613.5,695.9 L613.1,698.5 L612.5,701.1 L611.8,703.7 L610.8,706.3 L609.6,708.8 L608.3,711.2 L606.8,713.6 L605.2,715.9 L603.4,718.1 L601.5,720.1 L599.4,722.0 L597.3,723.7 L595.1,725.3 L592.8,726.6 L590.5,727.8 L588.1,728.8 L585.7,729.6 L583.3,730.1 L580.9,730.5 L578.6,730.6 L576.3,730.5 L574.1,730.2 L571.9,729.6 L569.9,728.8 L568.0,727.9 L566.2,726.7 L564.6,725.3 L563.1,723.8 L561.7,722.1 L560.6,720.2 L559.6,718.2 L558.9,716.0 L558.3,713.7 L557.9,711.3 L557.7,708.9 L557.7,706.4 L558.0,703.8 L558.4,701.2 L559.0,698.6 L559.9,696.0 L560.9,693.5 L562.1,691.0 L563.5,688.5 L565.0,686.2 L566.7,683.9 L568.5,681.8 L570.5,679.8 L572.5,677.9 L574.7,676.3" stroke="#3a3a3a" stroke-width="1.1" fill="none" />
<circle cx="636.2" cy="690.2" r="1.6" stroke="#3a3a3a" stroke-width="0.9" fill="none"/>
<circle cx="634.3" cy="696.8" r="1.6" stroke="#3a3a3a" stroke-width="0.9" fill="none"/>
<circle cx="631.6" cy="703.4" r="1.6" stroke="#3a3a3a" stroke-width="0.9" fill="none"/>
<circle cx="628.2" cy="709.8" r="1.6" stroke="#3a3a3a" stroke-width="0.9" fill="none"/>
<circle cx="624.1" cy="715.9" r="1.6" stroke="#3a3a3a" stroke-width="0.9" fill="none"/>
<circle cx="619.3" cy="721.6" r="1.6" stroke="#3a3a3a" stroke-width="0.9" fill="none"/>
<circle cx="614.1" cy="726.8" r="1.6" stroke="#3a3a3a" stroke-width="0.9" fill="none"/>
<circle cx="608.5" cy="731.4" r="1.6" stroke="#3a3a3a" stroke-width="0.9" fill="none"/>
<circle cx="602.5" cy="735.3" r="1.6" stroke="#3a3a3a" stroke-width="0.9" fill="none"/>
<circle cx="596.3" cy="738.4" r="1.6" stroke="#3a3a3a" stroke-width="0.9" fill="none"/>
<circle cx="590.0" cy="740.7" r="1.6" stroke="#3a3a3a" stroke-width="0.9" fill="none"/>
<circle cx="583.8" cy="742.2" r="1.6" stroke="#3a3a3a" stroke-width="0.9" fill="none"/>
<circle cx="577.7" cy="742.7" r="1.6" stroke="#3a3a3a" stroke-width="0.9" fill="none"/>
<circle cx="571.8" cy="742.4" r="1.6" stroke="#3a3a3a" stroke-width="0.9" fill="none"/>
<circle cx="566.3" cy="741.2" r="1.6" stroke="#3a3a3a" stroke-width="0.9" fill="none"/>
<circle cx="561.3" cy="739.1" r="1.6" stroke="#3a3a3a" stroke-width="0.9" fill="none"/>
<circle cx="556.8" cy="736.2" r="1.6" stroke="#3a3a3a" stroke-width="0.9" fill="none"/>
<circle cx="553.0" cy="732.5" r="1.6" stroke="#3a3a3a" stroke-width="0.9" fill="none"/>
<circle cx="549.8" cy="728.1" r="1.6" stroke="#3a3a3a" stroke-width="0.9" fill="none"/>
<circle cx="547.5" cy="723.0" r="1.6" stroke="#3a3a3a" stroke-width="0.9" fill="none"/>
<circle cx="545.9" cy="717.4" r="1.6" stroke="#3a3a3a" stroke-width="0.9" fill="none"/>
<circle cx="545.2" cy="711.4" r="1.6" stroke="#3a3a3a" stroke-width="0.9" fill="none"/>
<circle cx="545.4" cy="705.1" r="1.6" stroke="#3a3a3a" stroke-width="0.9" fill="none"/>
<circle cx="546.3" cy="698.6" r="1.6" stroke="#3a3a3a" stroke-width="0.9" fill="none"/>
<circle cx="548.2" cy="692.0" r="1.6" stroke="#3a3a3a" stroke-width="0.9" fill="none"/>
<circle cx="550.8" cy="685.4" r="1.6" stroke="#3a3a3a" stroke-width="0.9" fill="none"/>
<circle cx="554.2" cy="679.0" r="1.6" stroke="#3a3a3a" stroke-width="0.9" fill="none"/>
<circle cx="558.2" cy="672.8" r="1.6" stroke="#3a3a3a" stroke-width="0.9" fill="none"/>
<circle cx="562.9" cy="667.1" r="1.6" stroke="#3a3a3a" stroke-width="0.9" fill="none"/>
<circle cx="568.1" cy="661.9" r="1.6" stroke="#3a3a3a" stroke-width="0.9" fill="none"/>
<circle cx="573.7" cy="657.2" r="1.6" stroke="#3a3a3a" stroke-width="0.9" fill="none"/>
<circle cx="621.4" cy="693.6" r="1.6" stroke="#3a3a3a" stroke-width="0.9" fill="none"/>
<circle cx="619.7" cy="700.4" r="1.6" stroke="#3a3a3a" stroke-width="0.9" fill="none"/>
<circle cx="616.9" cy="707.1" r="1.6" stroke="#3a3a3a" stroke-width="0.9" fill="none"/>
<circle cx="613.0" cy="713.5" r="1.6" stroke="#3a3a3a" stroke-width="0.9" fill="none"/>
<circle cx="608.4" cy="719.3" r="1.6" stroke="#3a3a3a" stroke-width="0.9" fill="none"/>
<circle cx="603.0" cy="724.4" r="1.6" stroke="#3a3a3a" stroke-width="0.9" fill="none"/>
<circle cx="597.1" cy="728.6" r="1.6" stroke="#3a3a3a" stroke-width="0.9" fill="none"/>
<circle cx="590.9" cy="731.7" r="1.6" stroke="#3a3a3a" stroke-width="0.9" fill="none"/>
<circle cx="584.6" cy="733.7" r="1.6" stroke="#3a3a3a" stroke-width="0.9" fill="none"/>
<circle cx="578.4" cy="734.4" r="1.6" stroke="#3a3a3a" stroke-width="0.9" fill="none"/>
<circle cx="572.5" cy="733.9" r="1.6" stroke="#3a3a3a" stroke-width="0.9" fill="none"/>
<circle cx="567.2" cy="732.1" r="1.6" stroke="#3a3a3a" stroke-width="0.9" fill="none"/>
<circle cx="562.6" cy="729.1" r="1.6" stroke="#3a3a3a" stroke-width="0.9" fill="none"/>
<circle cx="558.8" cy="725.1" r="1.6" stroke="#3a3a3a" stroke-width="0.9" fill="none"/>
<circle cx="556.1" cy="720.1" r="1.6" stroke="#3a3a3a" stroke-width="0.9" fill="none"/>
<circle cx="554.5" cy="714.3" r="1.6" stroke="#3a3a3a" stroke-width="0.9" fill="none"/>
<circle cx="554.0" cy="708.0" r="1.6" stroke="#3a3a3a" stroke-width="0.9" fill="none"/>
<circle cx="554.7" cy="701.3" r="1.6" stroke="#3a3a3a" stroke-width="0.9" fill="none"/>
<circle cx="556.5" cy="694.5" r="1.6" stroke="#3a3a3a" stroke-width="0.9" fill="none"/>
<circle cx="559.4" cy="687.8" r="1.6" stroke="#3a3a3a" stroke-width="0.9" fill="none"/>
<circle cx="563.3" cy="681.5" r="1.6" stroke="#3a3a3a" stroke-width="0.9" fill="none"/>
<circle cx="568.0" cy="675.7" r="1.6" stroke="#3a3a3a" stroke-width="0.9" fill="none"/>
<circle cx="573.5" cy="670.6" r="1.6" stroke="#3a3a3a" stroke-width="0.9" fill="none"/>
</g>
<path d="M604.1,511.3 C603.1,509.9 599.9,505.5 598.0,503.0 C596.1,500.5 595.2,500.0 592.9,496.3 C590.6,492.6 585.9,486.0 584.0,481.0 C582.1,476.0 581.0,472.4 581.7,466.4 C582.4,460.4 584.6,450.5 588.0,445.0 C591.4,439.5 596.8,436.0 602.0,433.5 C607.2,431.0 613.7,430.2 619.5,430.2 C625.3,430.2 631.8,431.0 637.0,433.5 C642.2,436.0 647.6,439.5 651.0,445.0 C654.4,450.5 656.6,460.4 657.3,466.4 C658.0,472.4 656.8,476.0 655.0,481.0 C653.2,486.0 649.1,492.6 646.8,496.3 C644.5,500.0 642.9,500.5 641.0,503.0 C639.1,505.5 636.5,509.9 635.6,511.3" stroke="#3a3a3a" stroke-width="1.2" fill="#fff" />
<rect x="604" y="511" width="31.6" height="25" fill="#fff"/>
<path d="M604.1,511.3 L604.1,535.5" stroke="#3a3a3a" stroke-width="1.1" fill="none" />
<path d="M635.6,511.3 L635.6,535.5" stroke="#3a3a3a" stroke-width="1.1" fill="none" />
<path d="M635.6,513.5 L635.3,514.1 L634.4,514.7 L632.9,515.3 L631.0,515.8 L628.6,516.2 L625.9,516.5 L622.9,516.6 L619.9,516.7 L616.8,516.6 L613.8,516.5 L611.1,516.2 L608.7,515.8 L606.8,515.3 L605.3,514.7 L604.4,514.1 L604.1,513.5" stroke="#3a3a3a" stroke-width="1.1" fill="none" />
<path d="M635.6,517.7 L635.3,518.3 L634.4,518.9 L632.9,519.5 L631.0,520.0 L628.6,520.4 L625.9,520.7 L622.9,520.8 L619.9,520.9 L616.8,520.8 L613.8,520.7 L611.1,520.4 L608.7,520.0 L606.8,519.5 L605.3,518.9 L604.4,518.3 L604.1,517.7" stroke="#3a3a3a" stroke-width="1.1" fill="none" />
<path d="M635.6,521.9 L635.3,522.5 L634.4,523.1 L632.9,523.7 L631.0,524.2 L628.6,524.6 L625.9,524.9 L622.9,525.0 L619.9,525.1 L616.8,525.0 L613.8,524.9 L611.1,524.6 L608.7,524.2 L606.8,523.7 L605.3,523.1 L604.4,522.5 L604.1,521.9" stroke="#3a3a3a" stroke-width="1.1" fill="none" />
<path d="M635.6,526.1 L635.3,526.7 L634.4,527.3 L632.9,527.9 L631.0,528.4 L628.6,528.8 L625.9,529.1 L622.9,529.2 L619.9,529.3 L616.8,529.2 L613.8,529.1 L611.1,528.8 L608.7,528.4 L606.8,527.9 L605.3,527.3 L604.4,526.7 L604.1,526.1" stroke="#3a3a3a" stroke-width="1.1" fill="none" />
<path d="M635.6,530.3 L635.3,530.9 L634.4,531.5 L632.9,532.1 L631.0,532.6 L628.6,533.0 L625.9,533.3 L622.9,533.4 L619.9,533.5 L616.8,533.4 L613.8,533.3 L611.1,533.0 L608.7,532.6 L606.8,532.1 L605.3,531.5 L604.4,530.9 L604.1,530.3" stroke="#3a3a3a" stroke-width="1.1" fill="none" />
<path d="M635.6,534.5 L635.3,535.1 L634.4,535.7 L632.9,536.3 L631.0,536.8 L628.6,537.2 L625.9,537.5 L622.9,537.6 L619.9,537.7 L616.8,537.6 L613.8,537.5 L611.1,537.2 L608.7,536.8 L606.8,536.3 L605.3,535.7 L604.4,535.1 L604.1,534.5" stroke="#3a3a3a" stroke-width="1.1" fill="none" />
<path d="M606.4,535.2 L615.4,543.4 L624.3,543.4 L631.8,535.2" stroke="#3a3a3a" stroke-width="1.1" fill="none" />
<path d="M634.1,539.7 C635.8,540.4 641.6,542.3 644.0,544.0 C646.4,545.7 647.8,547.7 648.3,550.0 C648.8,552.3 648.5,555.6 646.8,557.7 C645.0,559.9 639.3,562.0 637.8,562.9" stroke="#3a3a3a" stroke-width="1.0" fill="none" />
<path d="M624.3,565.1 L637.1,560.8 L638.2,565.2 Z" fill="#3a3a3a" stroke="#3a3a3a" stroke-width="0.6"/>
<circle cx="652.8" cy="536.7" r="6.8" stroke="#3a3a3a" stroke-width="1.0" fill="none"/>
<text x="0" y="0" transform="translate(652.8 540.9250000000001) scale(0.52 1)" font-family="Liberation Serif" font-size="12.5" fill="#3a3a3a" text-anchor="middle" font-weight="normal">11</text>
<path d="M620,566 V600" stroke="#555" stroke-width="0.8" stroke-dasharray="5 2 1 2" fill="none"/>
<ellipse cx="619.3" cy="604.2" rx="34.6" ry="12.6" stroke="#4de64d" stroke-width="1.3" fill="#fff" />
<path d="M653.9,607.4 L653.8,608.4 L653.5,609.4 L652.9,610.3 L652.2,611.3 L651.3,612.2 L650.1,613.1 L648.8,614.0 L647.3,614.8 L645.6,615.6 L643.8,616.3 L641.8,617.0 L639.6,617.6 L637.4,618.1 L635.0,618.6 L632.5,619.0 L630.0,619.4 L627.4,619.7 L624.7,619.8 L622.0,620.0 L619.3,620.0 L616.6,620.0 L613.9,619.8 L611.2,619.7 L608.6,619.4 L606.1,619.0 L603.6,618.6 L601.2,618.1 L599.0,617.6 L596.8,617.0 L594.8,616.3 L593.0,615.6 L591.3,614.8 L589.8,614.0 L588.5,613.1 L587.3,612.2 L586.4,611.3 L585.7,610.3 L585.1,609.4 L584.8,608.4 L584.7,607.4" stroke="#4de64d" stroke-width="1.1" fill="none" />
<path d="M584.7,604.2 L584.7,607.4" stroke="#4de64d" stroke-width="1.0" fill="none" />
<path d="M653.9,604.2 L653.9,607.4" stroke="#4de64d" stroke-width="1.0" fill="none" />
<rect x="592.7" y="589" width="53.4" height="8" fill="#fff"/>
<path d="M646.1,596.5 L646.0,597.2 L645.8,597.9 L645.4,598.6 L644.8,599.3 L644.1,599.9 L643.2,600.6 L642.2,601.2 L641.0,601.8 L639.7,602.3 L638.3,602.9 L636.7,603.3 L635.1,603.8 L633.4,604.2 L631.5,604.5 L629.6,604.8 L627.7,605.1 L625.6,605.3 L623.6,605.4 L621.5,605.5 L619.4,605.5 L617.3,605.5 L615.2,605.4 L613.2,605.3 L611.1,605.1 L609.2,604.8 L607.3,604.5 L605.4,604.2 L603.7,603.8 L602.1,603.3 L600.5,602.9 L599.1,602.3 L597.8,601.8 L596.6,601.2 L595.6,600.6 L594.7,599.9 L594.0,599.3 L593.4,598.6 L593.0,597.9 L592.8,597.2 L592.7,596.5" stroke="#4de64d" stroke-width="1.2" fill="none" />
<path d="M592.7,589.0 L592.7,596.5" stroke="#4de64d" stroke-width="1.2" fill="none" />
<path d="M646.1,589.0 L646.1,596.5" stroke="#4de64d" stroke-width="1.2" fill="none" />
<ellipse cx="619.4" cy="589" rx="26.7" ry="9" stroke="#4de64d" stroke-width="1.3" fill="#fff" />
<ellipse cx="619.4" cy="590.2" rx="23.5" ry="6.8" stroke="#4de64d" stroke-width="1.0" fill="none" />
<path d="M599.7,590.6 L599.8,590.5 L600.0,590.4 L600.2,590.3 L600.4,590.2 L600.6,590.1 L600.8,590.0 L601.0,589.9 L601.2,589.8 L601.4,589.6 L601.7,589.5 L601.9,589.4 L602.2,589.3 L602.5,589.2 L602.7,589.2 L603.0,589.1 L603.3,589.0 L603.6,588.9 L603.9,588.8 L604.2,588.7 L604.6,588.6 L604.9,588.5 L605.2,588.4 L605.6,588.4 L605.9,588.3 L606.3,588.2 L606.6,588.1 L607.0,588.1 L607.4,588.0 L607.7,587.9 L608.1,587.9 L608.5,587.8 L608.9,587.7 L609.3,587.7 L609.7,587.6 L610.1,587.6 L610.5,587.5 L610.9,587.5 L611.4,587.4 L611.8,587.4 L612.2,587.3" stroke="#4de64d" stroke-width="0.9" fill="none" />
<path d="M599.1,593.1 L599.3,592.9 L599.5,592.8 L599.7,592.6 L599.9,592.5 L600.1,592.3 L600.3,592.2 L600.6,592.1 L600.9,591.9 L601.1,591.8 L601.4,591.6 L601.8,591.5 L602.1,591.4 L602.4,591.3 L602.8,591.1 L603.2,591.0 L603.6,590.9 L603.9,590.8 L604.4,590.7 L604.8,590.6 L605.2,590.4 L605.7,590.3 L606.1,590.2 L606.6,590.1 L607.1,590.1 L607.5,590.0 L608.0,589.9 L608.5,589.8 L609.1,589.7 L609.6,589.6 L610.1,589.6 L610.6,589.5 L611.2,589.4 L611.7,589.4 L612.3,589.3 L612.9,589.3 L613.4,589.2 L614.0,589.2 L614.6,589.1 L615.2,589.1 L615.8,589.1" stroke="#4de64d" stroke-width="0.9" fill="none" />
<path d="M629.0,597.5 L629.0,604.5" stroke="#4de64d" stroke-width="0.9" fill="none" />
<path d="M633.0,597.5 L633.0,604.5" stroke="#4de64d" stroke-width="0.9" fill="none" />
<path d="M637.0,597.5 L637.0,604.5" stroke="#4de64d" stroke-width="0.9" fill="none" />
<path d="M641.0,597.5 L641.0,604.5" stroke="#4de64d" stroke-width="0.9" fill="none" />
<path d="M620,566 V598" stroke="#555" stroke-width="0.8" stroke-dasharray="5 2 1 2" fill="none"/>
<path d="M654.3,600.2 C655.9,600.8 661.8,602.4 664.0,604.0 C666.2,605.6 667.7,607.7 667.8,609.9 C667.9,612.1 666.8,615.4 664.8,617.4 C662.8,619.4 657.3,621.1 655.8,621.9" stroke="#3a3a3a" stroke-width="1.0" fill="none" />
<path d="M644.6,624.9 L653.6,620.6 L656.6,624.6 Z" fill="#3a3a3a" stroke="#3a3a3a" stroke-width="0.6"/>
<circle cx="677.5" cy="618.1" r="7.3" stroke="#3a3a3a" stroke-width="1.0" fill="none"/>
<text x="0" y="0" transform="translate(677.5 622.325) scale(0.52 1)" font-family="Liberation Serif" font-size="12.5" fill="#3a3a3a" text-anchor="middle" font-weight="normal">10</text>
<path d="M620.0,617.0 L620.0,747.0" stroke="#4de64d" stroke-width="1.2" fill="none" />
<path d="M576.8,678.3 L514.2,728.8" stroke="#4de64d" stroke-width="1.1" fill="none" />
<path d="M580.0,681.0 L515.9,731.6" stroke="#4de64d" stroke-width="1.1" fill="none" />
<path d="M659.0,682.0 L728.4,729.4" stroke="#4de64d" stroke-width="1.1" fill="none" />
<path d="M655.0,684.5 L726.7,732.2" stroke="#4de64d" stroke-width="1.1" fill="none" />
<path d="M662.8,673.0 L662.7,674.6 L662.3,676.1 L661.6,677.7 L660.7,679.2 L659.5,680.7 L658.1,682.1 L656.5,683.4 L654.6,684.8 L652.5,686.0 L650.2,687.1 L647.7,688.2 L645.1,689.2 L642.3,690.1 L639.3,690.8 L636.3,691.5 L633.1,692.0 L629.8,692.4 L626.5,692.8 L623.2,692.9 L619.8,693.0 L616.4,692.9 L613.1,692.8 L609.8,692.4 L606.5,692.0 L603.3,691.5 L600.3,690.8 L597.3,690.1 L594.5,689.2 L591.9,688.2 L589.4,687.1 L587.1,686.0 L585.0,684.8 L583.1,683.4 L581.5,682.1 L580.1,680.7 L578.9,679.2 L578.0,677.7 L577.3,676.1 L576.9,674.6 L576.8,673.0" stroke="#4de64d" stroke-width="1.1" fill="none" />
<ellipse cx="619.8" cy="670" rx="43" ry="20" stroke="#4de64d" stroke-width="1.3" fill="none" />
<ellipse cx="619.4" cy="670.9" rx="29.5" ry="12" stroke="#4de64d" stroke-width="1.2" fill="none" />
<path d="M591.8,667.6 L592.2,666.9 L592.8,666.2 L593.4,665.5 L594.2,664.8 L595.2,664.1 L596.2,663.5 L597.3,662.9 L598.6,662.3 L599.9,661.7 L601.4,661.2 L602.9,660.8 L604.6,660.3 L606.3,660.0 L608.0,659.6 L609.8,659.4 L611.7,659.1 L613.6,658.9 L615.5,658.8 L617.4,658.7 L619.4,658.7 L621.4,658.7 L623.3,658.8 L625.2,658.9 L627.1,659.1 L629.0,659.4 L630.8,659.6 L632.5,660.0 L634.2,660.3 L635.9,660.8 L637.4,661.2 L638.9,661.7 L640.2,662.3 L641.5,662.9 L642.6,663.5 L643.6,664.1 L644.6,664.8 L645.4,665.5 L646.0,666.2 L646.6,666.9 L647.0,667.6" stroke="#4de64d" stroke-width="0.9" fill="none" />
<path d="M627.2,649.0 L629.2,645.6 L632.0,651.2" stroke="#4de64d" stroke-width="1.0" fill="none" />
<path d="M636.6,662.4 L644.0,675.0" stroke="#4de64d" stroke-width="1.0" fill="none" />
<path d="M640.0,661.5 L647.5,673.5" stroke="#4de64d" stroke-width="0.9" fill="none" />
<circle cx="704.8" cy="757.4" r="6.8" stroke="#3a3a3a" stroke-width="1.0" fill="none"/>
<text x="0" y="0" transform="translate(704.8 762.3009999999999) scale(0.62 1)" font-family="Liberation Serif" font-size="14.5" fill="#3a3a3a" text-anchor="middle" font-weight="normal">9</text>
<path d="M692.5,746.2 L692.5,766.0" stroke="#3a3a3a" stroke-width="1.0" fill="none" />
<path d="M689.6,764.2 L695.4,764.2 L692.5,780.5 Z" fill="#3a3a3a" stroke="#3a3a3a" stroke-width="0.6"/>
</svg>
</body></html>
